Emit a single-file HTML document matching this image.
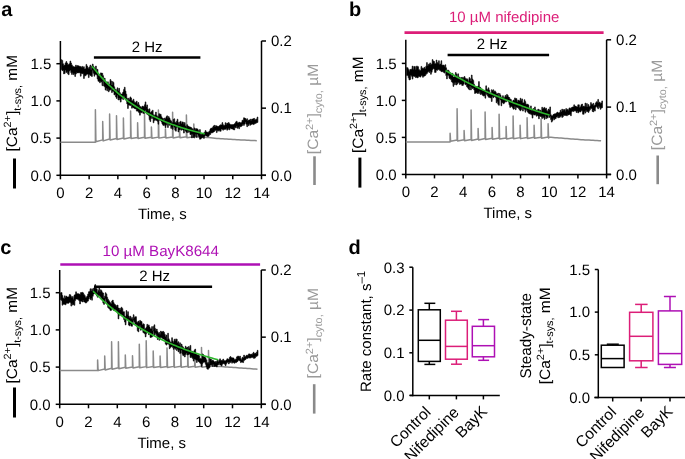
<!DOCTYPE html>
<html><head><meta charset="utf-8"><style>
html,body{margin:0;padding:0;background:#fff;overflow:hidden;}
svg{display:block;filter:blur(0.35px);}
text{font-family:"Liberation Sans", sans-serif;text-rendering:geometricPrecision;}
</style></head><body>
<svg width="685" height="459" viewBox="0 0 685 459">
<rect width="685" height="459" fill="#fff"/>
<line x1="60.4" y1="41" x2="60.4" y2="175.3" stroke="#000" stroke-width="1.5" stroke-linecap="butt"/>
<line x1="59.65" y1="175.3" x2="266" y2="175.3" stroke="#000" stroke-width="1.5" stroke-linecap="butt"/>
<line x1="261.5" y1="41" x2="261.5" y2="175.3" stroke="#000" stroke-width="1.5" stroke-linecap="butt"/>
<line x1="56.4" y1="175.3" x2="60.4" y2="175.3" stroke="#000" stroke-width="1.5" stroke-linecap="butt"/>
<text x="51.3" y="180.6" font-size="15" text-anchor="end" fill="#000" font-weight="normal" >0.0</text>
<line x1="56.4" y1="138.1" x2="60.4" y2="138.1" stroke="#000" stroke-width="1.5" stroke-linecap="butt"/>
<text x="51.3" y="143.4" font-size="15" text-anchor="end" fill="#000" font-weight="normal" >0.5</text>
<line x1="56.4" y1="100.9" x2="60.4" y2="100.9" stroke="#000" stroke-width="1.5" stroke-linecap="butt"/>
<text x="51.3" y="106.2" font-size="15" text-anchor="end" fill="#000" font-weight="normal" >1.0</text>
<line x1="56.4" y1="63.7" x2="60.4" y2="63.7" stroke="#000" stroke-width="1.5" stroke-linecap="butt"/>
<text x="51.3" y="69" font-size="15" text-anchor="end" fill="#000" font-weight="normal" >1.5</text>
<line x1="261.5" y1="175.3" x2="266" y2="175.3" stroke="#000" stroke-width="1.5" stroke-linecap="butt"/>
<text x="271" y="180.6" font-size="15" text-anchor="start" fill="#000" font-weight="normal" >0.0</text>
<line x1="261.5" y1="108.15" x2="266" y2="108.15" stroke="#000" stroke-width="1.5" stroke-linecap="butt"/>
<text x="271" y="113.45" font-size="15" text-anchor="start" fill="#000" font-weight="normal" >0.1</text>
<line x1="261.5" y1="41" x2="266" y2="41" stroke="#000" stroke-width="1.5" stroke-linecap="butt"/>
<text x="271" y="46.3" font-size="15" text-anchor="start" fill="#000" font-weight="normal" >0.2</text>
<line x1="60.4" y1="175.3" x2="60.4" y2="179.3" stroke="#000" stroke-width="1.5" stroke-linecap="butt"/>
<text x="60.4" y="197.8" font-size="15" text-anchor="middle" fill="#000" font-weight="normal" >0</text>
<line x1="89.13" y1="175.3" x2="89.13" y2="179.3" stroke="#000" stroke-width="1.5" stroke-linecap="butt"/>
<text x="89.13" y="197.8" font-size="15" text-anchor="middle" fill="#000" font-weight="normal" >2</text>
<line x1="117.86" y1="175.3" x2="117.86" y2="179.3" stroke="#000" stroke-width="1.5" stroke-linecap="butt"/>
<text x="117.86" y="197.8" font-size="15" text-anchor="middle" fill="#000" font-weight="normal" >4</text>
<line x1="146.59" y1="175.3" x2="146.59" y2="179.3" stroke="#000" stroke-width="1.5" stroke-linecap="butt"/>
<text x="146.59" y="197.8" font-size="15" text-anchor="middle" fill="#000" font-weight="normal" >6</text>
<line x1="175.31" y1="175.3" x2="175.31" y2="179.3" stroke="#000" stroke-width="1.5" stroke-linecap="butt"/>
<text x="175.31" y="197.8" font-size="15" text-anchor="middle" fill="#000" font-weight="normal" >8</text>
<line x1="204.04" y1="175.3" x2="204.04" y2="179.3" stroke="#000" stroke-width="1.5" stroke-linecap="butt"/>
<text x="204.04" y="197.8" font-size="15" text-anchor="middle" fill="#000" font-weight="normal" >10</text>
<line x1="232.77" y1="175.3" x2="232.77" y2="179.3" stroke="#000" stroke-width="1.5" stroke-linecap="butt"/>
<text x="232.77" y="197.8" font-size="15" text-anchor="middle" fill="#000" font-weight="normal" >12</text>
<line x1="261.5" y1="175.3" x2="261.5" y2="179.3" stroke="#000" stroke-width="1.5" stroke-linecap="butt"/>
<text x="261.5" y="197.8" font-size="15" text-anchor="middle" fill="#000" font-weight="normal" >14</text>
<text x="162.4" y="218.5" font-size="15" text-anchor="middle" fill="#000" font-weight="normal" >Time, s</text>
<text transform="translate(17.4,151.5) rotate(-90)" font-size="15" fill="#000" textLength="96.6" lengthAdjust="spacingAndGlyphs">[Ca<tspan font-size="10.5" dy="-6">2+</tspan><tspan dy="6">]</tspan><tspan font-size="10.5" dy="3.5">t-sys,</tspan><tspan dy="-3.5"> mM</tspan></text>
<line x1="14.5" y1="158.5" x2="14.5" y2="188.5" stroke="#000" stroke-width="3" stroke-linecap="butt"/>
<text transform="translate(317.7,154.2) rotate(-90)" font-size="15" fill="#9a9a9a" textLength="90.4" lengthAdjust="spacingAndGlyphs">[Ca<tspan font-size="10.5" dy="-4.5">2+</tspan><tspan dy="4.5">]</tspan><tspan font-size="10.5" dy="4.5">cyto,</tspan><tspan dy="-4.5"> &#181;M</tspan></text>
<line x1="314.5" y1="156.3" x2="314.5" y2="185" stroke="#8a8a8a" stroke-width="2.6" stroke-linecap="butt"/>
<line x1="93.9" y1="57.5" x2="200.4" y2="57.5" stroke="#000" stroke-width="2.6" stroke-linecap="butt"/>
<text x="147.15" y="51.9" font-size="15" text-anchor="middle" fill="#000" font-weight="normal" >2 Hz</text>
<path d="M60.4,142.3 L95.39,142.3 L95.4,109.7 L95.9,141.75 L102.69,139.88 L102.7,121.5 L103.2,140.88 L109.59,139.05 L109.6,114.1 L110.1,140.05 L116.49,138.51 L116.5,115.7 L117,139.51 L123.39,138 L123.4,117.9 L123.9,139 L130.59,137.49 L130.6,111.1 L131.1,138.49 L137.59,137.4 L137.6,122.8 L138.1,138.4 L144.49,137.31 L144.5,113.5 L145,138.31 L151.39,137.21 L151.4,127.1 L151.9,138.21 L158.39,137.12 L158.4,110.1 L158.9,138.12 L165.39,137.03 L165.4,128.9 L165.9,138.03 L172.59,136.93 L172.6,112.3 L173.1,137.93 L179.49,136.84 L179.5,127 L180,137.84 L186.39,136.75 L186.4,114.9 L186.9,137.75 L193.79,136.79 L193.8,124.1 L194.3,137.79 L194.8,136.81 L196.8,136.86 L198.8,136.9 L200.8,136.95 L202.8,137 L204.8,137.18 L206.8,137.38 L208.8,137.58 L210.8,137.78 L212.8,137.98 L214.8,138.18 L216.8,138.38 L218.8,138.58 L220.8,138.75 L222.8,138.87 L224.8,138.99 L226.8,139.11 L228.8,139.23 L230.8,139.35 L232.8,139.47 L234.8,139.59 L236.8,139.71 L238.8,139.83 L240.8,139.94 L242.8,140.02 L244.8,140.11 L246.8,140.2 L248.8,140.29 L250.8,140.38 L252.8,140.47 L254.8,140.56 L256.8,140.65" fill="none" stroke="#8a8a8a" stroke-width="1.5" stroke-linejoin="round" />
<path d="M61.2,59.7 L61.9,59.7 L62.0,60.4 L62.7,60.4 L62.8,63.8 L63.5,63.8 L63.6,65.5 L64.3,65.5 L64.4,65.1 L65.1,65.1 L65.2,63.0 L65.9,63.0 L66.0,61.5 L66.7,61.5 L66.8,63.1 L67.5,63.1 L67.6,64.4 L68.3,64.4 L68.4,64.4 L69.1,64.4 L69.2,63.7 L69.9,63.7 L70.0,61.0 L70.7,61.0 L70.8,63.1 L71.5,63.1 L71.6,64.9 L72.3,64.9 L72.4,66.3 L73.1,66.3 L73.2,66.4 L73.9,66.4 L74.0,66.9 L74.7,66.9 L74.8,66.8 L75.5,66.8 L75.6,65.1 L76.3,65.1 L76.4,66.6 L77.1,66.6 L77.2,65.6 L77.9,65.6 L78.0,65.8 L78.7,65.8 L78.8,66.0 L79.5,66.0 L79.6,66.8 L80.3,66.8 L80.4,66.4 L81.1,66.4 L81.2,67.3 L81.9,67.3 L82.0,66.4 L82.7,66.4 L82.8,67.6 L83.5,67.6 L83.6,66.7 L84.3,66.7 L84.4,68.9 L85.1,68.9 L85.2,68.8 L85.9,68.8 L86.0,64.4 L86.7,64.4 L86.8,66.0 L87.5,66.0 L87.6,67.6 L88.3,67.6 L88.4,68.4 L89.1,68.4 L89.2,66.9 L89.9,66.9 L90.0,65.1 L90.7,65.1 L90.8,69.4 L91.5,69.4 L91.6,66.1 L92.3,66.1 L92.4,64.0 L93.1,64.0 L93.2,66.3 L93.9,66.3 L94.0,67.7 L94.7,67.7 L94.8,69.0 L95.5,69.0 L95.6,66.0 L96.3,66.0 L96.4,70.4 L97.1,70.4 L97.2,69.3 L97.9,69.3 L98.0,75.8 L98.7,75.8 L98.8,74.4 L99.5,74.4 L99.6,75.5 L100.3,75.5 L100.4,72.9 L101.1,72.9 L101.2,73.0 L101.9,73.0 L102.0,73.3 L102.7,73.3 L102.8,75.7 L103.5,75.7 L103.6,79.1 L104.3,79.1 L104.4,78.1 L105.1,78.1 L105.2,82.5 L105.9,82.5 L106.0,82.1 L106.7,82.1 L106.8,82.6 L107.5,82.6 L107.6,81.8 L108.3,81.8 L108.4,85.4 L109.1,85.4 L109.2,84.2 L109.9,84.2 L110.0,79.5 L110.7,79.5 L110.8,80.9 L111.5,80.9 L111.6,84.9 L112.3,84.9 L112.4,81.6 L113.1,81.6 L113.2,82.5 L113.9,82.5 L114.0,86.8 L114.7,86.8 L114.8,89.2 L115.5,89.2 L115.6,89.4 L116.3,89.4 L116.4,91.6 L117.1,91.6 L117.2,87.8 L117.9,87.8 L118.0,91.0 L118.7,91.0 L118.8,88.3 L119.5,88.3 L119.6,92.6 L120.3,92.6 L120.4,94.0 L121.1,94.0 L121.2,94.1 L121.9,94.1 L122.0,93.7 L122.7,93.7 L122.8,92.0 L123.5,92.0 L123.6,89.5 L124.3,89.5 L124.4,87.2 L125.1,87.2 L125.2,91.1 L125.9,91.1 L126.0,94.2 L126.7,94.2 L126.8,98.3 L127.5,98.3 L127.6,100.0 L128.3,100.0 L128.4,98.2 L129.1,98.2 L129.2,99.4 L129.9,99.4 L130.0,96.9 L130.7,96.9 L130.8,98.0 L131.5,98.0 L131.6,100.4 L132.3,100.4 L132.4,101.1 L133.1,101.1 L133.2,99.2 L133.9,99.2 L134.0,101.7 L134.7,101.7 L134.8,103.1 L135.5,103.1 L135.6,102.2 L136.3,102.2 L136.4,101.2 L137.1,101.2 L137.2,104.3 L137.9,104.3 L138.0,102.5 L138.7,102.5 L138.8,104.9 L139.5,104.9 L139.6,106.5 L140.3,106.5 L140.4,106.8 L141.1,106.8 L141.2,107.4 L141.9,107.4 L142.0,106.1 L142.7,106.1 L142.8,106.6 L143.5,106.6 L143.6,106.5 L144.3,106.5 L144.4,104.8 L145.1,104.8 L145.2,101.9 L145.9,101.9 L146.0,107.0 L146.7,107.0 L146.8,104.9 L147.5,104.9 L147.6,109.1 L148.3,109.1 L148.4,110.5 L149.1,110.5 L149.2,108.8 L149.9,108.8 L150.0,112.7 L150.7,112.7 L150.8,112.0 L151.5,112.0 L151.6,111.2 L152.3,111.2 L152.4,110.2 L153.1,110.2 L153.2,114.8 L153.9,114.8 L154.0,115.4 L154.7,115.4 L154.8,114.7 L155.5,114.7 L155.6,112.1 L156.3,112.1 L156.4,115.5 L157.1,115.5 L157.2,116.4 L157.9,116.4 L158.0,116.7 L158.7,116.7 L158.8,113.7 L159.5,113.7 L159.6,114.2 L160.3,114.2 L160.4,114.3 L161.1,114.3 L161.2,116.7 L161.9,116.7 L162.0,118.1 L162.7,118.1 L162.8,118.5 L163.5,118.5 L163.6,120.4 L164.3,120.4 L164.4,118.0 L165.1,118.0 L165.2,118.8 L165.9,118.8 L166.0,116.8 L166.7,116.8 L166.8,115.8 L167.5,115.8 L167.6,118.3 L168.3,118.3 L168.4,116.6 L169.1,116.6 L169.2,118.1 L169.9,118.1 L170.0,119.9 L170.7,119.9 L170.8,120.9 L171.5,120.9 L171.6,122.6 L172.3,122.6 L172.4,122.8 L173.1,122.8 L173.2,119.3 L173.9,119.3 L174.0,118.8 L174.7,118.8 L174.8,122.2 L175.5,122.2 L175.6,122.7 L176.3,122.7 L176.4,121.2 L177.1,121.2 L177.2,119.2 L177.9,119.2 L178.0,122.6 L178.7,122.6 L178.8,124.4 L179.5,124.4 L179.6,121.9 L180.3,121.9 L180.4,121.2 L181.1,121.2 L181.2,123.8 L181.9,123.8 L182.0,121.9 L182.7,121.9 L182.8,122.2 L183.5,122.2 L183.6,124.3 L184.3,124.3 L184.4,122.6 L185.1,122.6 L185.2,126.0 L185.9,126.0 L186.0,127.5 L186.7,127.5 L186.8,124.7 L187.5,124.7 L187.6,126.0 L188.3,126.0 L188.4,126.3 L189.1,126.3 L189.2,127.0 L189.9,127.0 L190.0,127.0 L190.7,127.0 L190.8,127.6 L191.5,127.6 L191.6,128.3 L192.3,128.3 L192.4,129.3 L193.1,129.3 L193.2,130.1 L193.9,130.1 L194.0,127.9 L194.7,127.9 L194.8,129.8 L195.5,129.8 L195.6,128.6 L196.3,128.6 L196.4,128.7 L197.1,128.7 L197.2,128.9 L197.9,128.9 L198.0,130.3 L198.7,130.3 L198.8,132.2 L199.5,132.2 L199.6,129.6 L200.3,129.6 L200.4,134.3 L201.1,134.3 L201.2,134.2 L201.9,134.2 L202.0,134.1 L202.7,134.1 L202.8,133.7 L203.5,133.7 L203.6,132.9 L204.3,132.9 L204.4,132.3 L205.1,132.3 L205.2,130.5 L205.9,130.5 L206.0,132.0 L206.7,132.0 L206.8,132.1 L207.5,132.1 L207.6,132.4 L208.3,132.4 L208.4,131.9 L209.1,131.9 L209.2,131.1 L209.9,131.1 L210.0,129.1 L210.7,129.1 L210.8,128.1 L211.5,128.1 L211.6,128.3 L212.3,128.3 L212.4,127.4 L213.1,127.4 L213.2,126.0 L213.9,126.0 L214.0,125.3 L214.7,125.3 L214.8,126.7 L215.5,126.7 L215.6,125.6 L216.3,125.6 L216.4,126.1 L217.1,126.1 L217.2,126.3 L217.9,126.3 L218.0,126.6 L218.7,126.6 L218.8,126.1 L219.5,126.1 L219.6,125.3 L220.3,125.3 L220.4,124.8 L221.1,124.8 L221.2,125.0 L221.9,125.0 L222.0,122.6 L222.7,122.6 L222.8,124.7 L223.5,124.7 L223.6,125.5 L224.3,125.5 L224.4,125.3 L225.1,125.3 L225.2,122.7 L225.9,122.7 L226.0,124.4 L226.7,124.4 L226.8,123.0 L227.5,123.0 L227.6,123.5 L228.3,123.5 L228.4,122.5 L229.1,122.5 L229.2,123.8 L229.9,123.8 L230.0,124.4 L230.7,124.4 L230.8,124.5 L231.5,124.5 L231.6,124.9 L232.3,124.9 L232.4,124.5 L233.1,124.5 L233.2,124.6 L233.9,124.6 L234.0,124.0 L234.7,124.0 L234.8,123.3 L235.5,123.3 L235.6,121.9 L236.3,121.9 L236.4,121.2 L237.1,121.2 L237.2,122.8 L237.9,122.8 L238.0,123.1 L238.7,123.1 L238.8,122.1 L239.5,122.1 L239.6,122.6 L240.3,122.6 L240.4,122.8 L241.1,122.8 L241.2,122.5 L241.9,122.5 L242.0,120.2 L242.7,120.2 L242.8,120.3 L243.5,120.3 L243.6,117.8 L244.3,117.8 L244.4,118.1 L245.1,118.1 L245.2,118.6 L245.9,118.6 L246.0,119.7 L246.7,119.7 L246.8,118.7 L247.5,118.7 L247.6,120.7 L248.3,120.7 L248.4,120.1 L249.1,120.1 L249.2,120.1 L249.9,120.1 L250.0,119.2 L250.7,119.2 L250.8,120.6 L251.5,120.6 L251.6,119.1 L252.3,119.1 L252.4,119.1 L253.1,119.1 L253.2,118.6 L253.9,118.6 L254.0,118.4 L254.7,118.4 L254.8,119.9 L255.5,119.9 L255.6,119.4 L256.3,119.4 L256.4,118.9 L257.1,118.9 L257.2,117.0 L257.9,117.0 L257.9,122.4 L257.2,122.4 L257.1,122.7 L256.4,122.7 L256.3,123.2 L255.6,123.2 L255.5,123.6 L254.8,123.6 L254.7,124.1 L254.0,124.1 L253.9,124.6 L253.2,124.6 L253.1,124.1 L252.4,124.1 L252.3,124.2 L251.6,124.2 L251.5,124.5 L250.8,124.5 L250.7,125.2 L250.0,125.2 L249.9,123.7 L249.2,123.7 L249.1,125.7 L248.4,125.7 L248.3,124.5 L247.6,124.5 L247.5,126.7 L246.8,126.7 L246.7,124.3 L246.0,124.3 L245.9,122.3 L245.2,122.3 L245.1,124.1 L244.4,124.1 L244.3,125.4 L243.6,125.4 L243.5,124.3 L242.8,124.3 L242.7,125.4 L242.0,125.4 L241.9,126.2 L241.2,126.2 L241.1,126.8 L240.4,126.8 L240.3,126.5 L239.6,126.5 L239.5,128.8 L238.8,128.8 L238.7,127.2 L238.0,127.2 L237.9,128.3 L237.2,128.3 L237.1,126.6 L236.4,126.6 L236.3,127.9 L235.6,127.9 L235.5,127.2 L234.8,127.2 L234.7,129.9 L234.0,129.9 L233.9,129.7 L233.2,129.7 L233.1,129.1 L232.4,129.1 L232.3,128.9 L231.6,128.9 L231.5,128.7 L230.8,128.7 L230.7,128.1 L230.0,128.1 L229.9,129.8 L229.2,129.8 L229.1,128.3 L228.4,128.3 L228.3,129.5 L227.6,129.5 L227.5,130.2 L226.8,130.2 L226.7,128.5 L226.0,128.5 L225.9,129.3 L225.2,129.3 L225.1,129.4 L224.4,129.4 L224.3,129.2 L223.6,129.2 L223.5,130.2 L222.8,130.2 L222.7,129.3 L222.0,129.3 L221.9,129.0 L221.2,129.0 L221.1,131.3 L220.4,131.3 L220.3,131.2 L219.6,131.2 L219.5,130.1 L218.8,130.1 L218.7,131.1 L218.0,131.1 L217.9,130.8 L217.2,130.8 L217.1,132.6 L216.4,132.6 L216.3,129.9 L215.6,129.9 L215.5,130.5 L214.8,130.5 L214.7,131.4 L214.0,131.4 L213.9,132.0 L213.2,132.0 L213.1,132.6 L212.4,132.6 L212.3,133.0 L211.6,133.0 L211.5,132.7 L210.8,132.7 L210.7,134.4 L210.0,134.4 L209.9,134.8 L209.2,134.8 L209.1,136.1 L208.4,136.1 L208.3,136.7 L207.6,136.7 L207.5,136.2 L206.8,136.2 L206.7,136.0 L206.0,136.0 L205.9,135.5 L205.2,135.5 L205.1,136.3 L204.4,136.3 L204.3,138.4 L203.6,138.4 L203.5,137.3 L202.8,137.3 L202.7,137.7 L202.0,137.7 L201.9,138.1 L201.2,138.1 L201.1,139.1 L200.4,139.1 L200.3,139.2 L199.6,139.2 L199.5,137.2 L198.8,137.2 L198.7,135.8 L198.0,135.8 L197.9,134.1 L197.2,134.1 L197.1,137.4 L196.4,137.4 L196.3,134.2 L195.6,134.2 L195.5,136.2 L194.8,136.2 L194.7,137.6 L194.0,137.6 L193.9,137.5 L193.2,137.5 L193.1,134.2 L192.4,134.2 L192.3,138.0 L191.6,138.0 L191.5,134.2 L190.8,134.2 L190.7,134.7 L190.0,134.7 L189.9,131.8 L189.2,131.8 L189.1,132.3 L188.4,132.3 L188.3,130.9 L187.6,130.9 L187.5,132.7 L186.8,132.7 L186.7,132.1 L186.0,132.1 L185.9,131.0 L185.2,131.0 L185.1,129.6 L184.4,129.6 L184.3,133.1 L183.6,133.1 L183.5,129.9 L182.8,129.9 L182.7,129.6 L182.0,129.6 L181.9,130.2 L181.2,130.2 L181.1,128.3 L180.4,128.3 L180.3,129.9 L179.6,129.9 L179.5,129.7 L178.8,129.7 L178.7,132.0 L178.0,132.0 L177.9,127.1 L177.2,127.1 L177.1,127.5 L176.4,127.5 L176.3,131.2 L175.6,131.2 L175.5,130.2 L174.8,130.2 L174.7,127.2 L174.0,127.2 L173.9,125.1 L173.2,125.1 L173.1,129.3 L172.4,129.3 L172.3,127.2 L171.6,127.2 L171.5,128.4 L170.8,128.4 L170.7,124.7 L170.0,124.7 L169.9,125.3 L169.2,125.3 L169.1,124.1 L168.4,124.1 L168.3,127.5 L167.6,127.5 L167.5,122.8 L166.8,122.8 L166.7,125.1 L166.0,125.1 L165.9,127.7 L165.2,127.7 L165.1,124.8 L164.4,124.8 L164.3,125.6 L163.6,125.6 L163.5,125.2 L162.8,125.2 L162.7,124.0 L162.0,124.0 L161.9,121.9 L161.2,121.9 L161.1,120.2 L160.4,120.2 L160.3,120.4 L159.6,120.4 L159.5,119.0 L158.8,119.0 L158.7,124.2 L158.0,124.2 L157.9,121.3 L157.2,121.3 L157.1,120.5 L156.4,120.5 L156.3,120.3 L155.6,120.3 L155.5,119.8 L154.8,119.8 L154.7,120.4 L154.0,120.4 L153.9,122.8 L153.2,122.8 L153.1,118.4 L152.4,118.4 L152.3,116.7 L151.6,116.7 L151.5,118.5 L150.8,118.5 L150.7,121.6 L150.0,121.6 L149.9,119.7 L149.2,119.7 L149.1,115.6 L148.4,115.6 L148.3,114.6 L147.6,114.6 L147.5,114.3 L146.8,114.3 L146.7,112.0 L146.0,112.0 L145.9,110.3 L145.2,110.3 L145.1,111.7 L144.4,111.7 L144.3,113.5 L143.6,113.5 L143.5,113.3 L142.8,113.3 L142.7,111.8 L142.0,111.8 L141.9,112.8 L141.2,112.8 L141.1,112.4 L140.4,112.4 L140.3,115.2 L139.6,115.2 L139.5,112.7 L138.8,112.7 L138.7,111.8 L138.0,111.8 L137.9,110.9 L137.2,110.9 L137.1,111.1 L136.4,111.1 L136.3,108.7 L135.6,108.7 L135.5,108.9 L134.8,108.9 L134.7,108.2 L134.0,108.2 L133.9,107.9 L133.2,107.9 L133.1,106.9 L132.4,106.9 L132.3,108.2 L131.6,108.2 L131.5,104.8 L130.8,104.8 L130.7,105.6 L130.0,105.6 L129.9,105.2 L129.2,105.2 L129.1,104.9 L128.4,104.9 L128.3,108.5 L127.6,108.5 L127.5,103.9 L126.8,103.9 L126.7,100.9 L126.0,100.9 L125.9,98.6 L125.2,98.6 L125.1,98.4 L124.4,98.4 L124.3,95.7 L123.6,95.7 L123.5,99.6 L122.8,99.6 L122.7,98.3 L122.0,98.3 L121.9,98.7 L121.2,98.7 L121.1,102.1 L120.4,102.1 L120.3,99.9 L119.6,99.9 L119.5,97.9 L118.8,97.9 L118.7,100.0 L118.0,100.0 L117.9,95.3 L117.2,95.3 L117.1,98.4 L116.4,98.4 L116.3,96.9 L115.6,96.9 L115.5,94.0 L114.8,94.0 L114.7,95.0 L114.0,95.0 L113.9,91.5 L113.2,91.5 L113.1,90.9 L112.4,90.9 L112.3,92.6 L111.6,92.6 L111.5,89.2 L110.8,89.2 L110.7,90.1 L110.0,90.1 L109.9,90.2 L109.2,90.2 L109.1,91.8 L108.4,91.8 L108.3,88.7 L107.6,88.7 L107.5,90.8 L106.8,90.8 L106.7,88.0 L106.0,88.0 L105.9,90.1 L105.2,90.1 L105.1,86.8 L104.4,86.8 L104.3,86.0 L103.6,86.0 L103.5,80.7 L102.8,80.7 L102.7,85.7 L102.0,85.7 L101.9,82.0 L101.2,82.0 L101.1,81.4 L100.4,81.4 L100.3,82.8 L99.6,82.8 L99.5,81.4 L98.8,81.4 L98.7,81.3 L98.0,81.3 L97.9,78.9 L97.2,78.9 L97.1,75.0 L96.4,75.0 L96.3,74.3 L95.6,74.3 L95.5,74.5 L94.8,74.5 L94.7,76.2 L94.0,76.2 L93.9,73.3 L93.2,73.3 L93.1,70.6 L92.4,70.6 L92.3,76.5 L91.6,76.5 L91.5,75.8 L90.8,75.8 L90.7,75.4 L90.0,75.4 L89.9,74.5 L89.2,74.5 L89.1,77.6 L88.4,77.6 L88.3,74.2 L87.6,74.2 L87.5,74.0 L86.8,74.0 L86.7,74.8 L86.0,74.8 L85.9,75.8 L85.2,75.8 L85.1,75.7 L84.4,75.7 L84.3,78.5 L83.6,78.5 L83.5,73.8 L82.8,73.8 L82.7,73.7 L82.0,73.7 L81.9,73.5 L81.2,73.5 L81.1,76.2 L80.4,76.2 L80.3,73.0 L79.6,73.0 L79.5,72.4 L78.8,72.4 L78.7,72.9 L78.0,72.9 L77.9,72.9 L77.2,72.9 L77.1,72.8 L76.4,72.8 L76.3,74.0 L75.6,74.0 L75.5,76.5 L74.8,76.5 L74.7,73.8 L74.0,73.8 L73.9,74.6 L73.2,74.6 L73.1,72.7 L72.4,72.7 L72.3,74.5 L71.6,74.5 L71.5,72.7 L70.8,72.7 L70.7,70.0 L70.0,70.0 L69.9,71.1 L69.2,71.1 L69.1,74.7 L68.4,74.7 L68.3,73.8 L67.6,73.8 L67.5,71.7 L66.8,71.7 L66.7,72.6 L66.0,72.6 L65.9,70.0 L65.2,70.0 L65.1,73.5 L64.4,73.5 L64.3,73.9 L63.6,73.9 L63.5,70.2 L62.8,70.2 L62.7,70.7 L62.0,70.7 L61.9,69.6 L61.2,69.6Z" fill="#000" stroke="#000" stroke-width="0.6" stroke-linejoin="round"/>
<path d="M92,66.18 L93.91,68.55 L95.82,70.85 L97.73,73.09 L99.64,75.26 L101.55,77.37 L103.46,79.42 L105.37,81.41 L107.28,83.34 L109.19,85.22 L111.1,87.04 L113.01,88.81 L114.92,90.53 L116.83,92.21 L118.74,93.83 L120.65,95.4 L122.56,96.93 L124.47,98.42 L126.38,99.86 L128.29,101.27 L130.2,102.63 L132.11,103.95 L134.02,105.24 L135.93,106.48 L137.84,107.7 L139.75,108.87 L141.66,110.02 L143.57,111.13 L145.48,112.2 L147.39,113.25 L149.31,114.27 L151.22,115.26 L153.13,116.22 L155.04,117.15 L156.95,118.05 L158.86,118.93 L160.77,119.79 L162.68,120.62 L164.59,121.42 L166.5,122.2 L168.41,122.96 L170.32,123.7 L172.23,124.42 L174.14,125.12 L176.05,125.79 L177.96,126.45 L179.87,127.09 L181.78,127.71 L183.69,128.31 L185.6,128.89 L187.51,129.46 L189.42,130.01 L191.33,130.55 L193.24,131.07 L195.15,131.57 L197.06,132.06 L198.97,132.54 L200.88,133 L202.79,133.45 L204.7,133.89" fill="none" stroke="#2cb52c" stroke-width="1.6" stroke-linejoin="round" />
<text x="1.2" y="16.1" font-size="20" text-anchor="start" fill="#000" font-weight="bold" >a</text>
<line x1="405.8" y1="39.8" x2="405.8" y2="174.4" stroke="#000" stroke-width="1.5" stroke-linecap="butt"/>
<line x1="405.05" y1="174.4" x2="611.1" y2="174.4" stroke="#000" stroke-width="1.5" stroke-linecap="butt"/>
<line x1="606.6" y1="39.8" x2="606.6" y2="174.4" stroke="#000" stroke-width="1.5" stroke-linecap="butt"/>
<line x1="401.8" y1="174.4" x2="405.8" y2="174.4" stroke="#000" stroke-width="1.5" stroke-linecap="butt"/>
<text x="396.7" y="179.7" font-size="15" text-anchor="end" fill="#000" font-weight="normal" >0.0</text>
<line x1="401.8" y1="137.4" x2="405.8" y2="137.4" stroke="#000" stroke-width="1.5" stroke-linecap="butt"/>
<text x="396.7" y="142.7" font-size="15" text-anchor="end" fill="#000" font-weight="normal" >0.5</text>
<line x1="401.8" y1="100.4" x2="405.8" y2="100.4" stroke="#000" stroke-width="1.5" stroke-linecap="butt"/>
<text x="396.7" y="105.7" font-size="15" text-anchor="end" fill="#000" font-weight="normal" >1.0</text>
<line x1="401.8" y1="63.4" x2="405.8" y2="63.4" stroke="#000" stroke-width="1.5" stroke-linecap="butt"/>
<text x="396.7" y="68.7" font-size="15" text-anchor="end" fill="#000" font-weight="normal" >1.5</text>
<line x1="606.6" y1="174.4" x2="611.1" y2="174.4" stroke="#000" stroke-width="1.5" stroke-linecap="butt"/>
<text x="616.1" y="179.7" font-size="15" text-anchor="start" fill="#000" font-weight="normal" >0.0</text>
<line x1="606.6" y1="107.1" x2="611.1" y2="107.1" stroke="#000" stroke-width="1.5" stroke-linecap="butt"/>
<text x="616.1" y="112.4" font-size="15" text-anchor="start" fill="#000" font-weight="normal" >0.1</text>
<line x1="606.6" y1="39.8" x2="611.1" y2="39.8" stroke="#000" stroke-width="1.5" stroke-linecap="butt"/>
<text x="616.1" y="45.1" font-size="15" text-anchor="start" fill="#000" font-weight="normal" >0.2</text>
<line x1="405.8" y1="174.4" x2="405.8" y2="178.4" stroke="#000" stroke-width="1.5" stroke-linecap="butt"/>
<text x="405.8" y="196.9" font-size="15" text-anchor="middle" fill="#000" font-weight="normal" >0</text>
<line x1="434.49" y1="174.4" x2="434.49" y2="178.4" stroke="#000" stroke-width="1.5" stroke-linecap="butt"/>
<text x="434.49" y="196.9" font-size="15" text-anchor="middle" fill="#000" font-weight="normal" >2</text>
<line x1="463.17" y1="174.4" x2="463.17" y2="178.4" stroke="#000" stroke-width="1.5" stroke-linecap="butt"/>
<text x="463.17" y="196.9" font-size="15" text-anchor="middle" fill="#000" font-weight="normal" >4</text>
<line x1="491.86" y1="174.4" x2="491.86" y2="178.4" stroke="#000" stroke-width="1.5" stroke-linecap="butt"/>
<text x="491.86" y="196.9" font-size="15" text-anchor="middle" fill="#000" font-weight="normal" >6</text>
<line x1="520.54" y1="174.4" x2="520.54" y2="178.4" stroke="#000" stroke-width="1.5" stroke-linecap="butt"/>
<text x="520.54" y="196.9" font-size="15" text-anchor="middle" fill="#000" font-weight="normal" >8</text>
<line x1="549.23" y1="174.4" x2="549.23" y2="178.4" stroke="#000" stroke-width="1.5" stroke-linecap="butt"/>
<text x="549.23" y="196.9" font-size="15" text-anchor="middle" fill="#000" font-weight="normal" >10</text>
<line x1="577.91" y1="174.4" x2="577.91" y2="178.4" stroke="#000" stroke-width="1.5" stroke-linecap="butt"/>
<text x="577.91" y="196.9" font-size="15" text-anchor="middle" fill="#000" font-weight="normal" >12</text>
<line x1="606.6" y1="174.4" x2="606.6" y2="178.4" stroke="#000" stroke-width="1.5" stroke-linecap="butt"/>
<text x="606.6" y="196.9" font-size="15" text-anchor="middle" fill="#000" font-weight="normal" >14</text>
<text x="507.8" y="217.6" font-size="15" text-anchor="middle" fill="#000" font-weight="normal" >Time, s</text>
<text transform="translate(362.8,153) rotate(-90)" font-size="15" fill="#000" textLength="96.6" lengthAdjust="spacingAndGlyphs">[Ca<tspan font-size="10.5" dy="-6">2+</tspan><tspan dy="6">]</tspan><tspan font-size="10.5" dy="3.5">t-sys,</tspan><tspan dy="-3.5"> mM</tspan></text>
<line x1="359.9" y1="157.6" x2="359.9" y2="187.6" stroke="#000" stroke-width="3" stroke-linecap="butt"/>
<text transform="translate(661.7,150.2) rotate(-90)" font-size="15" fill="#9a9a9a" textLength="90.4" lengthAdjust="spacingAndGlyphs">[Ca<tspan font-size="10.5" dy="-4.5">2+</tspan><tspan dy="4.5">]</tspan><tspan font-size="10.5" dy="4.5">cyto,</tspan><tspan dy="-4.5"> &#181;M</tspan></text>
<line x1="657.7" y1="155.5" x2="657.7" y2="184.2" stroke="#8a8a8a" stroke-width="2.6" stroke-linecap="butt"/>
<line x1="447.6" y1="55" x2="549.1" y2="55" stroke="#000" stroke-width="2.6" stroke-linecap="butt"/>
<text x="492.15" y="49.4" font-size="15" text-anchor="middle" fill="#000" font-weight="normal" >2 Hz</text>
<line x1="404.5" y1="32.6" x2="603.6" y2="32.6" stroke="#dc1e78" stroke-width="2.6" stroke-linecap="butt"/>
<text x="449" y="22" font-size="15" text-anchor="start" fill="#dc1e78" font-weight="normal" >10 &#181;M nifedipine</text>
<path d="M405.8,142 L450.09,142 L450.1,133.3 L450.6,141.3 L457.09,140.02 L457.1,108.8 L457.6,141.02 L464.09,139.74 L464.1,130.6 L464.6,140.74 L471.09,139.43 L471.1,109.9 L471.6,140.43 L478.09,138.97 L478.1,128.5 L478.6,139.97 L485.09,138.52 L485.1,111.9 L485.6,139.52 L492.09,138.16 L492.1,127.5 L492.6,139.16 L499.09,138.03 L499.1,114.2 L499.6,139.03 L506.09,137.89 L506.1,126.4 L506.6,138.89 L513.09,137.76 L513.1,115.9 L513.6,138.76 L520.09,137.63 L520.1,125.2 L520.6,138.63 L527.09,137.5 L527.1,117.7 L527.6,138.5 L534.09,137.36 L534.1,125.2 L534.6,138.36 L541.09,137.23 L541.1,118.9 L541.6,138.23 L548.09,137.11 L548.1,123.8 L548.6,138.11 L549.1,137.18 L551.1,137.33 L553.1,137.48 L555.1,137.63 L557.1,137.78 L559.1,137.93 L561.1,138.09 L563.1,138.25 L565.1,138.41 L567.1,138.57 L569.1,138.73 L571.1,138.89 L573.1,139.05 L575.1,139.21 L577.1,139.37 L579.1,139.53 L581.1,139.66 L583.1,139.78 L585.1,139.89 L587.1,140 L589.1,140.11 L591.1,140.23 L593.1,140.34 L595.1,140.45 L597.1,140.57 L599.1,140.68 L601.1,140.79" fill="none" stroke="#8a8a8a" stroke-width="1.5" stroke-linejoin="round" />
<path d="M406.6,67.6 L407.3,67.6 L407.4,67.8 L408.1,67.8 L408.2,69.6 L408.9,69.6 L409.0,71.2 L409.7,71.2 L409.8,69.5 L410.5,69.5 L410.6,69.3 L411.3,69.3 L411.4,69.2 L412.1,69.2 L412.2,66.1 L412.9,66.1 L413.0,69.6 L413.7,69.6 L413.8,66.4 L414.5,66.4 L414.6,66.6 L415.3,66.6 L415.4,69.4 L416.1,69.4 L416.2,66.2 L416.9,66.2 L417.0,66.2 L417.7,66.2 L417.8,66.7 L418.5,66.7 L418.6,69.4 L419.3,69.4 L419.4,70.3 L420.1,70.3 L420.2,70.5 L420.9,70.5 L421.0,66.4 L421.7,66.4 L421.8,68.5 L422.5,68.5 L422.6,67.9 L423.3,67.9 L423.4,68.8 L424.1,68.8 L424.2,67.3 L424.9,67.3 L425.0,69.0 L425.7,69.0 L425.8,66.2 L426.5,66.2 L426.6,62.6 L427.3,62.6 L427.4,66.0 L428.1,66.0 L428.2,64.2 L428.9,64.2 L429.0,64.3 L429.7,64.3 L429.8,62.9 L430.5,62.9 L430.6,64.8 L431.3,64.8 L431.4,63.9 L432.1,63.9 L432.2,59.6 L432.9,59.6 L433.0,61.0 L433.7,61.0 L433.8,61.5 L434.5,61.5 L434.6,63.4 L435.3,63.4 L435.4,63.7 L436.1,63.7 L436.2,60.0 L436.9,60.0 L437.0,62.6 L437.7,62.6 L437.8,63.2 L438.5,63.2 L438.6,60.7 L439.3,60.7 L439.4,64.6 L440.1,64.6 L440.2,64.0 L440.9,64.0 L441.0,60.7 L441.7,60.7 L441.8,65.1 L442.5,65.1 L442.6,65.2 L443.3,65.2 L443.4,65.0 L444.1,65.0 L444.2,66.2 L444.9,66.2 L445.0,64.7 L445.7,64.7 L445.8,67.8 L446.5,67.8 L446.6,69.9 L447.3,69.9 L447.4,70.7 L448.1,70.7 L448.2,70.2 L448.9,70.2 L449.0,71.8 L449.7,71.8 L449.8,72.8 L450.5,72.8 L450.6,73.2 L451.3,73.2 L451.4,75.5 L452.1,75.5 L452.2,73.3 L452.9,73.3 L453.0,77.1 L453.7,77.1 L453.8,77.0 L454.5,77.0 L454.6,76.4 L455.3,76.4 L455.4,72.5 L456.1,72.5 L456.2,73.9 L456.9,73.9 L457.0,77.4 L457.7,77.4 L457.8,73.8 L458.5,73.8 L458.6,76.9 L459.3,76.9 L459.4,77.3 L460.1,77.3 L460.2,78.1 L460.9,78.1 L461.0,77.6 L461.7,77.6 L461.8,77.3 L462.5,77.3 L462.6,78.5 L463.3,78.5 L463.4,77.4 L464.1,77.4 L464.2,76.5 L464.9,76.5 L465.0,78.2 L465.7,78.2 L465.8,79.2 L466.5,79.2 L466.6,78.7 L467.3,78.7 L467.4,79.6 L468.1,79.6 L468.2,81.8 L468.9,81.8 L469.0,77.6 L469.7,77.6 L469.8,78.7 L470.5,78.7 L470.6,80.9 L471.3,80.9 L471.4,75.0 L472.1,75.0 L472.2,79.0 L472.9,79.0 L473.0,80.5 L473.7,80.5 L473.8,84.3 L474.5,84.3 L474.6,86.4 L475.3,86.4 L475.4,87.5 L476.1,87.5 L476.2,86.7 L476.9,86.7 L477.0,86.9 L477.7,86.9 L477.8,86.0 L478.5,86.0 L478.6,81.6 L479.3,81.6 L479.4,86.9 L480.1,86.9 L480.2,87.6 L480.9,87.6 L481.0,89.0 L481.7,89.0 L481.8,89.1 L482.5,89.1 L482.6,90.5 L483.3,90.5 L483.4,90.8 L484.1,90.8 L484.2,90.4 L484.9,90.4 L485.0,90.7 L485.7,90.7 L485.8,85.8 L486.5,85.8 L486.6,89.0 L487.3,89.0 L487.4,90.3 L488.1,90.3 L488.2,87.8 L488.9,87.8 L489.0,90.2 L489.7,90.2 L489.8,93.2 L490.5,93.2 L490.6,92.9 L491.3,92.9 L491.4,89.7 L492.1,89.7 L492.2,90.5 L492.9,90.5 L493.0,89.8 L493.7,89.8 L493.8,92.0 L494.5,92.0 L494.6,90.9 L495.3,90.9 L495.4,91.9 L496.1,91.9 L496.2,93.8 L496.9,93.8 L497.0,94.1 L497.7,94.1 L497.8,93.1 L498.5,93.1 L498.6,96.4 L499.3,96.4 L499.4,93.5 L500.1,93.5 L500.2,95.1 L500.9,95.1 L501.0,97.1 L501.7,97.1 L501.8,97.5 L502.5,97.5 L502.6,95.7 L503.3,95.7 L503.4,97.7 L504.1,97.7 L504.2,97.4 L504.9,97.4 L505.0,95.4 L505.7,95.4 L505.8,96.8 L506.5,96.8 L506.6,94.4 L507.3,94.4 L507.4,95.2 L508.1,95.2 L508.2,97.0 L508.9,97.0 L509.0,97.6 L509.7,97.6 L509.8,99.0 L510.5,99.0 L510.6,99.5 L511.3,99.5 L511.4,101.3 L512.1,101.3 L512.2,102.2 L512.9,102.2 L513.0,100.0 L513.7,100.0 L513.8,100.6 L514.5,100.6 L514.6,97.9 L515.3,97.9 L515.4,98.8 L516.1,98.8 L516.2,98.6 L516.9,98.6 L517.0,101.9 L517.7,101.9 L517.8,100.1 L518.5,100.1 L518.6,100.4 L519.3,100.4 L519.4,100.9 L520.1,100.9 L520.2,98.2 L520.9,98.2 L521.0,100.5 L521.7,100.5 L521.8,98.9 L522.5,98.9 L522.6,102.7 L523.3,102.7 L523.4,102.9 L524.1,102.9 L524.2,99.7 L524.9,99.7 L525.0,101.6 L525.7,101.6 L525.8,104.0 L526.5,104.0 L526.6,105.1 L527.3,105.1 L527.4,104.1 L528.1,104.1 L528.2,105.1 L528.9,105.1 L529.0,108.0 L529.7,108.0 L529.8,108.9 L530.5,108.9 L530.6,105.9 L531.3,105.9 L531.4,110.2 L532.1,110.2 L532.2,109.6 L532.9,109.6 L533.0,108.5 L533.7,108.5 L533.8,109.4 L534.5,109.4 L534.6,106.9 L535.3,106.9 L535.4,109.8 L536.1,109.8 L536.2,110.2 L536.9,110.2 L537.0,110.8 L537.7,110.8 L537.8,109.1 L538.5,109.1 L538.6,109.6 L539.3,109.6 L539.4,110.7 L540.1,110.7 L540.2,110.2 L540.9,110.2 L541.0,111.8 L541.7,111.8 L541.8,107.2 L542.5,107.2 L542.6,109.0 L543.3,109.0 L543.4,107.9 L544.1,107.9 L544.2,107.4 L544.9,107.4 L545.0,109.0 L545.7,109.0 L545.8,108.2 L546.5,108.2 L546.6,110.5 L547.3,110.5 L547.4,111.5 L548.1,111.5 L548.2,109.1 L548.9,109.1 L549.0,110.0 L549.7,110.0 L549.8,106.9 L550.5,106.9 L550.6,114.8 L551.3,114.8 L551.4,116.1 L552.1,116.1 L552.2,115.7 L552.9,115.7 L553.0,114.6 L553.7,114.6 L553.8,114.1 L554.5,114.1 L554.6,113.8 L555.3,113.8 L555.4,113.8 L556.1,113.8 L556.2,113.0 L556.9,113.0 L557.0,112.1 L557.7,112.1 L557.8,113.0 L558.5,113.0 L558.6,112.8 L559.3,112.8 L559.4,112.5 L560.1,112.5 L560.2,110.2 L560.9,110.2 L561.0,112.0 L561.7,112.0 L561.8,109.1 L562.5,109.1 L562.6,110.5 L563.3,110.5 L563.4,109.6 L564.1,109.6 L564.2,109.6 L564.9,109.6 L565.0,111.2 L565.7,111.2 L565.8,108.6 L566.5,108.6 L566.6,109.9 L567.3,109.9 L567.4,109.2 L568.1,109.2 L568.2,110.2 L568.9,110.2 L569.0,107.9 L569.7,107.9 L569.8,108.2 L570.5,108.2 L570.6,108.2 L571.3,108.2 L571.4,107.6 L572.1,107.6 L572.2,107.0 L572.9,107.0 L573.0,107.1 L573.7,107.1 L573.8,104.8 L574.5,104.8 L574.6,106.2 L575.3,106.2 L575.4,106.1 L576.1,106.1 L576.2,106.8 L576.9,106.8 L577.0,107.1 L577.7,107.1 L577.8,104.8 L578.5,104.8 L578.6,104.8 L579.3,104.8 L579.4,107.5 L580.1,107.5 L580.2,106.8 L580.9,106.8 L581.0,104.7 L581.7,104.7 L581.8,104.0 L582.5,104.0 L582.6,106.6 L583.3,106.6 L583.4,106.1 L584.1,106.1 L584.2,106.5 L584.9,106.5 L585.0,103.0 L585.7,103.0 L585.8,106.4 L586.5,106.4 L586.6,103.6 L587.3,103.6 L587.4,107.1 L588.1,107.1 L588.2,104.6 L588.9,104.6 L589.0,106.9 L589.7,106.9 L589.8,106.0 L590.5,106.0 L590.6,102.6 L591.3,102.6 L591.4,104.3 L592.1,104.3 L592.2,104.2 L592.9,104.2 L593.0,103.3 L593.7,103.3 L593.8,106.1 L594.5,106.1 L594.6,104.9 L595.3,104.9 L595.4,102.9 L596.1,102.9 L596.2,101.8 L596.9,101.8 L597.0,102.2 L597.7,102.2 L597.8,99.4 L598.5,99.4 L598.6,102.9 L599.3,102.9 L599.4,102.1 L600.1,102.1 L600.2,103.6 L600.9,103.6 L601.0,102.9 L601.7,102.9 L601.8,100.9 L602.5,100.9 L602.5,107.7 L601.8,107.7 L601.7,108.1 L601.0,108.1 L600.9,109.3 L600.2,109.3 L600.1,107.4 L599.4,107.4 L599.3,106.6 L598.6,106.6 L598.5,108.8 L597.8,108.8 L597.7,107.4 L597.0,107.4 L596.9,106.6 L596.2,106.6 L596.1,107.2 L595.4,107.2 L595.3,111.1 L594.6,111.1 L594.5,110.1 L593.8,110.1 L593.7,111.9 L593.0,111.9 L592.9,111.4 L592.2,111.4 L592.1,108.4 L591.4,108.4 L591.3,108.5 L590.6,108.5 L590.5,109.6 L589.8,109.6 L589.7,110.8 L589.0,110.8 L588.9,112.4 L588.2,112.4 L588.1,111.5 L587.4,111.5 L587.3,111.7 L586.6,111.7 L586.5,110.5 L585.8,110.5 L585.7,113.1 L585.0,113.1 L584.9,111.5 L584.2,111.5 L584.1,114.3 L583.4,114.3 L583.3,114.2 L582.6,114.2 L582.5,110.7 L581.8,110.7 L581.7,110.8 L581.0,110.8 L580.9,112.0 L580.2,112.0 L580.1,111.6 L579.4,111.6 L579.3,112.1 L578.6,112.1 L578.5,113.0 L577.8,113.0 L577.7,111.0 L577.0,111.0 L576.9,112.5 L576.2,112.5 L576.1,110.7 L575.4,110.7 L575.3,111.1 L574.6,111.1 L574.5,110.8 L573.8,110.8 L573.7,111.5 L573.0,111.5 L572.9,111.1 L572.2,111.1 L572.1,111.8 L571.4,111.8 L571.3,115.8 L570.6,115.8 L570.5,114.4 L569.8,114.4 L569.7,114.5 L569.0,114.5 L568.9,115.0 L568.2,115.0 L568.1,114.7 L567.4,114.7 L567.3,115.9 L566.6,115.9 L566.5,115.1 L565.8,115.1 L565.7,115.5 L565.0,115.5 L564.9,115.4 L564.2,115.4 L564.1,115.3 L563.4,115.3 L563.3,116.8 L562.6,116.8 L562.5,117.4 L561.8,117.4 L561.7,115.7 L561.0,115.7 L560.9,116.4 L560.2,116.4 L560.1,117.5 L559.4,117.5 L559.3,116.8 L558.6,116.8 L558.5,117.9 L557.8,117.9 L557.7,116.5 L557.0,116.5 L556.9,117.1 L556.2,117.1 L556.1,118.7 L555.4,118.7 L555.3,118.7 L554.6,118.7 L554.5,119.8 L553.8,119.8 L553.7,118.6 L553.0,118.6 L552.9,120.7 L552.2,120.7 L552.1,122.1 L551.4,122.1 L551.3,119.6 L550.6,119.6 L550.5,116.6 L549.8,116.6 L549.7,117.4 L549.0,117.4 L548.9,115.2 L548.2,115.2 L548.1,118.1 L547.4,118.1 L547.3,117.3 L546.6,117.3 L546.5,118.7 L545.8,118.7 L545.7,115.7 L545.0,115.7 L544.9,119.4 L544.2,119.4 L544.1,117.7 L543.4,117.7 L543.3,116.8 L542.6,116.8 L542.5,118.4 L541.8,118.4 L541.7,116.8 L541.0,116.8 L540.9,116.4 L540.2,116.4 L540.1,115.9 L539.4,115.9 L539.3,118.8 L538.6,118.8 L538.5,115.9 L537.8,115.9 L537.7,115.6 L537.0,115.6 L536.9,116.2 L536.2,116.2 L536.1,114.5 L535.4,114.5 L535.3,115.1 L534.6,115.1 L534.5,114.9 L533.8,114.9 L533.7,114.6 L533.0,114.6 L532.9,118.1 L532.2,118.1 L532.1,114.8 L531.4,114.8 L531.3,114.3 L530.6,114.3 L530.5,113.7 L529.8,113.7 L529.7,113.8 L529.0,113.8 L528.9,113.1 L528.2,113.1 L528.1,112.0 L527.4,112.0 L527.3,110.6 L526.6,110.6 L526.5,109.6 L525.8,109.6 L525.7,112.2 L525.0,112.2 L524.9,109.3 L524.2,109.3 L524.1,108.4 L523.4,108.4 L523.3,111.1 L522.6,111.1 L522.5,107.6 L521.8,107.6 L521.7,109.5 L521.0,109.5 L520.9,110.8 L520.2,110.8 L520.1,110.0 L519.4,110.0 L519.3,108.7 L518.6,108.7 L518.5,107.7 L517.8,107.7 L517.7,107.5 L517.0,107.5 L516.9,107.3 L516.2,107.3 L516.1,109.7 L515.4,109.7 L515.3,106.4 L514.6,106.4 L514.5,108.9 L513.8,108.9 L513.7,109.2 L513.0,109.2 L512.9,107.5 L512.2,107.5 L512.1,106.4 L511.4,106.4 L511.3,106.4 L510.6,106.4 L510.5,107.4 L509.8,107.4 L509.7,104.8 L509.0,104.8 L508.9,102.0 L508.2,102.0 L508.1,99.9 L507.4,99.9 L507.3,99.6 L506.6,99.6 L506.5,102.0 L505.8,102.0 L505.7,101.6 L505.0,101.6 L504.9,102.7 L504.2,102.7 L504.1,103.8 L503.4,103.8 L503.3,102.9 L502.6,102.9 L502.5,102.6 L501.8,102.6 L501.7,105.8 L501.0,105.8 L500.9,99.9 L500.2,99.9 L500.1,98.3 L499.4,98.3 L499.3,105.3 L498.6,105.3 L498.5,104.2 L497.8,104.2 L497.7,101.5 L497.0,101.5 L496.9,102.8 L496.2,102.8 L496.1,97.6 L495.4,97.6 L495.3,96.5 L494.6,96.5 L494.5,96.7 L493.8,96.7 L493.7,97.7 L493.0,97.7 L492.9,96.5 L492.2,96.5 L492.1,101.5 L491.4,101.5 L491.3,97.8 L490.6,97.8 L490.5,97.9 L489.8,97.9 L489.7,97.3 L489.0,97.3 L488.9,97.2 L488.2,97.2 L488.1,95.7 L487.4,95.7 L487.3,94.6 L486.6,94.6 L486.5,93.5 L485.8,93.5 L485.7,98.2 L485.0,98.2 L484.9,95.7 L484.2,95.7 L484.1,96.1 L483.4,96.1 L483.3,95.4 L482.6,95.4 L482.5,94.7 L481.8,94.7 L481.7,93.7 L481.0,93.7 L480.9,94.4 L480.2,94.4 L480.1,91.6 L479.4,91.6 L479.3,93.5 L478.6,93.5 L478.5,92.4 L477.8,92.4 L477.7,93.4 L477.0,93.4 L476.9,92.7 L476.2,92.7 L476.1,93.1 L475.4,93.1 L475.3,93.5 L474.6,93.5 L474.5,90.0 L473.8,90.0 L473.7,88.0 L473.0,88.0 L472.9,88.6 L472.2,88.6 L472.1,87.6 L471.4,87.6 L471.3,90.0 L470.6,90.0 L470.5,86.0 L469.8,86.0 L469.7,89.8 L469.0,89.8 L468.9,88.9 L468.2,88.9 L468.1,87.5 L467.4,87.5 L467.3,86.7 L466.6,86.7 L466.5,84.6 L465.8,84.6 L465.7,84.7 L465.0,84.7 L464.9,81.2 L464.2,81.2 L464.1,84.1 L463.4,84.1 L463.3,85.4 L462.6,85.4 L462.5,85.5 L461.8,85.5 L461.7,83.9 L461.0,83.9 L460.9,84.1 L460.2,84.1 L460.1,84.4 L459.4,84.4 L459.3,82.8 L458.6,82.8 L458.5,82.6 L457.8,82.6 L457.7,83.9 L457.0,83.9 L456.9,85.0 L456.2,85.0 L456.1,82.4 L455.4,82.4 L455.3,84.8 L454.6,84.8 L454.5,82.7 L453.8,82.7 L453.7,86.4 L453.0,86.4 L452.9,82.4 L452.2,82.4 L452.1,81.7 L451.4,81.7 L451.3,79.6 L450.6,79.6 L450.5,78.8 L449.8,78.8 L449.7,78.4 L449.0,78.4 L448.9,75.6 L448.2,75.6 L448.1,75.6 L447.4,75.6 L447.3,78.9 L446.6,78.9 L446.5,75.6 L445.8,75.6 L445.7,71.6 L445.0,71.6 L444.9,73.1 L444.2,73.1 L444.1,72.3 L443.4,72.3 L443.3,71.8 L442.6,71.8 L442.5,71.4 L441.8,71.4 L441.7,71.7 L441.0,71.7 L440.9,70.7 L440.2,70.7 L440.1,70.3 L439.4,70.3 L439.3,69.6 L438.6,69.6 L438.5,69.4 L437.8,69.4 L437.7,70.3 L437.0,70.3 L436.9,69.9 L436.2,69.9 L436.1,72.4 L435.4,72.4 L435.3,72.4 L434.6,72.4 L434.5,69.0 L433.8,69.0 L433.7,68.4 L433.0,68.4 L432.9,69.7 L432.2,69.7 L432.1,72.3 L431.4,72.3 L431.3,74.3 L430.6,74.3 L430.5,71.2 L429.8,71.2 L429.7,72.5 L429.0,72.5 L428.9,71.5 L428.2,71.5 L428.1,72.3 L427.4,72.3 L427.3,73.6 L426.6,73.6 L426.5,74.2 L425.8,74.2 L425.7,75.4 L425.0,75.4 L424.9,76.1 L424.2,76.1 L424.1,76.3 L423.4,76.3 L423.3,77.3 L422.6,77.3 L422.5,75.7 L421.8,75.7 L421.7,75.5 L421.0,75.5 L420.9,77.1 L420.2,77.1 L420.1,76.7 L419.4,76.7 L419.3,76.0 L418.6,76.0 L418.5,77.3 L417.8,77.3 L417.7,77.9 L417.0,77.9 L416.9,77.3 L416.2,77.3 L416.1,77.6 L415.4,77.6 L415.3,76.6 L414.6,76.6 L414.5,76.4 L413.8,76.4 L413.7,76.1 L413.0,76.1 L412.9,79.1 L412.2,79.1 L412.1,76.2 L411.4,76.2 L411.3,75.2 L410.6,75.2 L410.5,79.5 L409.8,79.5 L409.7,80.0 L409.0,80.0 L408.9,77.8 L408.2,77.8 L408.1,75.4 L407.4,75.4 L407.3,75.4 L406.6,75.4Z" fill="#000" stroke="#000" stroke-width="0.6" stroke-linejoin="round"/>
<path d="M445.5,70.5 L447.26,71.53 L449.03,72.54 L450.79,73.54 L452.56,74.54 L454.32,75.52 L456.09,76.49 L457.85,77.45 L459.62,78.4 L461.38,79.33 L463.14,80.26 L464.91,81.18 L466.67,82.09 L468.44,82.99 L470.2,83.87 L471.97,84.75 L473.73,85.62 L475.49,86.48 L477.26,87.33 L479.02,88.17 L480.79,89 L482.55,89.82 L484.32,90.63 L486.08,91.44 L487.85,92.23 L489.61,93.02 L491.37,93.79 L493.14,94.56 L494.9,95.32 L496.67,96.07 L498.43,96.82 L500.2,97.55 L501.96,98.28 L503.73,99 L505.49,99.71 L507.25,100.41 L509.02,101.1 L510.78,101.79 L512.55,102.47 L514.31,103.14 L516.08,103.81 L517.84,104.47 L519.61,105.12 L521.37,105.76 L523.13,106.4 L524.9,107.03 L526.66,107.65 L528.43,108.26 L530.19,108.87 L531.96,109.47 L533.72,110.07 L535.48,110.66 L537.25,111.24 L539.01,111.81 L540.78,112.38 L542.54,112.95 L544.31,113.5 L546.07,114.05 L547.84,114.6 L549.6,115.14" fill="none" stroke="#2cb52c" stroke-width="1.6" stroke-linejoin="round" />
<text x="348.9" y="15.7" font-size="20" text-anchor="start" fill="#000" font-weight="bold" >b</text>
<line x1="59.7" y1="270" x2="59.7" y2="404.3" stroke="#000" stroke-width="1.5" stroke-linecap="butt"/>
<line x1="58.95" y1="404.3" x2="265.8" y2="404.3" stroke="#000" stroke-width="1.5" stroke-linecap="butt"/>
<line x1="261.3" y1="270" x2="261.3" y2="404.3" stroke="#000" stroke-width="1.5" stroke-linecap="butt"/>
<line x1="55.7" y1="404.3" x2="59.7" y2="404.3" stroke="#000" stroke-width="1.5" stroke-linecap="butt"/>
<text x="50.6" y="409.6" font-size="15" text-anchor="end" fill="#000" font-weight="normal" >0.0</text>
<line x1="55.7" y1="367.1" x2="59.7" y2="367.1" stroke="#000" stroke-width="1.5" stroke-linecap="butt"/>
<text x="50.6" y="372.4" font-size="15" text-anchor="end" fill="#000" font-weight="normal" >0.5</text>
<line x1="55.7" y1="329.9" x2="59.7" y2="329.9" stroke="#000" stroke-width="1.5" stroke-linecap="butt"/>
<text x="50.6" y="335.2" font-size="15" text-anchor="end" fill="#000" font-weight="normal" >1.0</text>
<line x1="55.7" y1="292.7" x2="59.7" y2="292.7" stroke="#000" stroke-width="1.5" stroke-linecap="butt"/>
<text x="50.6" y="298" font-size="15" text-anchor="end" fill="#000" font-weight="normal" >1.5</text>
<line x1="261.3" y1="404.3" x2="265.8" y2="404.3" stroke="#000" stroke-width="1.5" stroke-linecap="butt"/>
<text x="270.8" y="409.6" font-size="15" text-anchor="start" fill="#000" font-weight="normal" >0.0</text>
<line x1="261.3" y1="337.15" x2="265.8" y2="337.15" stroke="#000" stroke-width="1.5" stroke-linecap="butt"/>
<text x="270.8" y="342.45" font-size="15" text-anchor="start" fill="#000" font-weight="normal" >0.1</text>
<line x1="261.3" y1="270" x2="265.8" y2="270" stroke="#000" stroke-width="1.5" stroke-linecap="butt"/>
<text x="270.8" y="275.3" font-size="15" text-anchor="start" fill="#000" font-weight="normal" >0.2</text>
<line x1="59.7" y1="404.3" x2="59.7" y2="408.3" stroke="#000" stroke-width="1.5" stroke-linecap="butt"/>
<text x="59.7" y="426.8" font-size="15" text-anchor="middle" fill="#000" font-weight="normal" >0</text>
<line x1="88.5" y1="404.3" x2="88.5" y2="408.3" stroke="#000" stroke-width="1.5" stroke-linecap="butt"/>
<text x="88.5" y="426.8" font-size="15" text-anchor="middle" fill="#000" font-weight="normal" >2</text>
<line x1="117.3" y1="404.3" x2="117.3" y2="408.3" stroke="#000" stroke-width="1.5" stroke-linecap="butt"/>
<text x="117.3" y="426.8" font-size="15" text-anchor="middle" fill="#000" font-weight="normal" >4</text>
<line x1="146.1" y1="404.3" x2="146.1" y2="408.3" stroke="#000" stroke-width="1.5" stroke-linecap="butt"/>
<text x="146.1" y="426.8" font-size="15" text-anchor="middle" fill="#000" font-weight="normal" >6</text>
<line x1="174.9" y1="404.3" x2="174.9" y2="408.3" stroke="#000" stroke-width="1.5" stroke-linecap="butt"/>
<text x="174.9" y="426.8" font-size="15" text-anchor="middle" fill="#000" font-weight="normal" >8</text>
<line x1="203.7" y1="404.3" x2="203.7" y2="408.3" stroke="#000" stroke-width="1.5" stroke-linecap="butt"/>
<text x="203.7" y="426.8" font-size="15" text-anchor="middle" fill="#000" font-weight="normal" >10</text>
<line x1="232.5" y1="404.3" x2="232.5" y2="408.3" stroke="#000" stroke-width="1.5" stroke-linecap="butt"/>
<text x="232.5" y="426.8" font-size="15" text-anchor="middle" fill="#000" font-weight="normal" >12</text>
<line x1="261.3" y1="404.3" x2="261.3" y2="408.3" stroke="#000" stroke-width="1.5" stroke-linecap="butt"/>
<text x="261.3" y="426.8" font-size="15" text-anchor="middle" fill="#000" font-weight="normal" >14</text>
<text x="161.7" y="447.5" font-size="15" text-anchor="middle" fill="#000" font-weight="normal" >Time, s</text>
<text transform="translate(17.4,383.5) rotate(-90)" font-size="15" fill="#000" textLength="96.6" lengthAdjust="spacingAndGlyphs">[Ca<tspan font-size="10.5" dy="-6">2+</tspan><tspan dy="6">]</tspan><tspan font-size="10.5" dy="3.5">t-sys,</tspan><tspan dy="-3.5"> mM</tspan></text>
<line x1="14.5" y1="387.5" x2="14.5" y2="417.5" stroke="#000" stroke-width="3" stroke-linecap="butt"/>
<text transform="translate(317.9,378.4) rotate(-90)" font-size="15" fill="#9a9a9a" textLength="90.4" lengthAdjust="spacingAndGlyphs">[Ca<tspan font-size="10.5" dy="-4.5">2+</tspan><tspan dy="4.5">]</tspan><tspan font-size="10.5" dy="4.5">cyto,</tspan><tspan dy="-4.5"> &#181;M</tspan></text>
<line x1="314.2" y1="384.2" x2="314.2" y2="413.6" stroke="#8a8a8a" stroke-width="2.6" stroke-linecap="butt"/>
<line x1="94" y1="286.7" x2="212.1" y2="286.7" stroke="#000" stroke-width="2.6" stroke-linecap="butt"/>
<text x="154.6" y="281.1" font-size="15" text-anchor="middle" fill="#000" font-weight="normal" >2 Hz</text>
<line x1="60.3" y1="264.5" x2="260.1" y2="264.5" stroke="#ae10b4" stroke-width="2.6" stroke-linecap="butt"/>
<text x="102.5" y="255.9" font-size="15" text-anchor="start" fill="#ae10b4" font-weight="normal" textLength="116.4" lengthAdjust="spacingAndGlyphs">10 &#181;M BayK8644</text>
<path d="M59.7,370.6 L97.59,370.6 L97.6,359.9 L98.1,370.64 L104.69,368.96 L104.7,356 L105.2,369.96 L111.59,368.3 L111.6,341.8 L112.1,369.3 L118.39,367.65 L118.4,341.8 L118.9,368.65 L125.29,367.32 L125.3,355 L125.8,368.32 L132.49,367.08 L132.5,355.7 L133,368.08 L139.29,366.86 L139.3,344.2 L139.8,367.86 L146.19,366.63 L146.2,340.8 L146.7,367.63 L153.19,366.48 L153.2,350.9 L153.7,367.48 L160.09,366.45 L160.1,356 L160.6,367.45 L166.99,366.42 L167,347.9 L167.5,367.42 L173.89,366.38 L173.9,348.9 L174.4,367.38 L180.79,366.35 L180.8,352 L181.3,367.35 L187.69,366.31 L187.7,348.4 L188.2,367.31 L194.69,366.28 L194.7,350.4 L195.2,367.28 L201.49,366.24 L201.5,347.4 L202,367.24 L208.49,366.21 L208.5,350.4 L209,367.21 L209.5,366.2 L211.5,366.25 L213.5,366.31 L215.5,366.37 L217.5,366.43 L219.5,366.49 L221.5,366.61 L223.5,366.75 L225.5,366.89 L227.5,367.03 L229.5,367.18 L231.5,367.32 L233.5,367.46 L235.5,367.6 L237.5,367.74 L239.5,367.89 L241.5,368.03 L243.5,368.17 L245.5,368.31 L247.5,368.45 L249.5,368.6 L251.5,368.74 L253.5,368.88 L255.5,369.02 L257.5,369.16" fill="none" stroke="#8a8a8a" stroke-width="1.5" stroke-linejoin="round" />
<path d="M60.5,292.8 L61.2,292.8 L61.3,292.5 L62.0,292.5 L62.1,295.5 L62.8,295.5 L62.9,297.9 L63.6,297.9 L63.7,298.8 L64.4,298.8 L64.5,295.8 L65.2,295.8 L65.3,297.4 L66.0,297.4 L66.1,296.1 L66.8,296.1 L66.9,297.1 L67.6,297.1 L67.7,297.1 L68.4,297.1 L68.5,296.8 L69.2,296.8 L69.3,294.6 L70.0,294.6 L70.1,294.8 L70.8,294.8 L70.9,296.6 L71.6,296.6 L71.7,297.8 L72.4,297.8 L72.5,296.5 L73.2,296.5 L73.3,299.2 L74.0,299.2 L74.1,295.1 L74.8,295.1 L74.9,294.6 L75.6,294.6 L75.7,291.8 L76.4,291.8 L76.5,293.4 L77.2,293.4 L77.3,293.8 L78.0,293.8 L78.1,293.7 L78.8,293.7 L78.9,294.1 L79.6,294.1 L79.7,294.6 L80.4,294.6 L80.5,292.6 L81.2,292.6 L81.3,292.6 L82.0,292.6 L82.1,292.3 L82.8,292.3 L82.9,292.9 L83.6,292.9 L83.7,294.6 L84.4,294.6 L84.5,295.6 L85.2,295.6 L85.3,297.4 L86.0,297.4 L86.1,297.2 L86.8,297.2 L86.9,296.1 L87.6,296.1 L87.7,294.1 L88.4,294.1 L88.5,291.8 L89.2,291.8 L89.3,291.4 L90.0,291.4 L90.1,288.8 L90.8,288.8 L90.9,291.1 L91.6,291.1 L91.7,288.8 L92.4,288.8 L92.5,290.8 L93.2,290.8 L93.3,288.2 L94.0,288.2 L94.1,288.1 L94.8,288.1 L94.9,284.6 L95.6,284.6 L95.7,288.3 L96.4,288.3 L96.5,288.7 L97.2,288.7 L97.3,292.5 L98.0,292.5 L98.1,290.4 L98.8,290.4 L98.9,288.1 L99.6,288.1 L99.7,291.4 L100.4,291.4 L100.5,289.8 L101.2,289.8 L101.3,290.7 L102.0,290.7 L102.1,292.6 L102.8,292.6 L102.9,293.1 L103.6,293.1 L103.7,298.1 L104.4,298.1 L104.5,296.2 L105.2,296.2 L105.3,292.7 L106.0,292.7 L106.1,293.9 L106.8,293.9 L106.9,297.2 L107.6,297.2 L107.7,299.2 L108.4,299.2 L108.5,300.5 L109.2,300.5 L109.3,301.7 L110.0,301.7 L110.1,302.8 L110.8,302.8 L110.9,303.7 L111.6,303.7 L111.7,301.0 L112.4,301.0 L112.5,300.1 L113.2,300.1 L113.3,302.5 L114.0,302.5 L114.1,304.0 L114.8,304.0 L114.9,304.8 L115.6,304.8 L115.7,305.5 L116.4,305.5 L116.5,306.4 L117.2,306.4 L117.3,305.0 L118.0,305.0 L118.1,308.1 L118.8,308.1 L118.9,308.3 L119.6,308.3 L119.7,309.9 L120.4,309.9 L120.5,308.2 L121.2,308.2 L121.3,307.2 L122.0,307.2 L122.1,308.6 L122.8,308.6 L122.9,311.8 L123.6,311.8 L123.7,311.7 L124.4,311.7 L124.5,316.0 L125.2,316.0 L125.3,316.4 L126.0,316.4 L126.1,310.6 L126.8,310.6 L126.9,314.6 L127.6,314.6 L127.7,311.7 L128.4,311.7 L128.5,315.9 L129.2,315.9 L129.3,317.8 L130.0,317.8 L130.1,316.2 L130.8,316.2 L130.9,318.8 L131.6,318.8 L131.7,317.5 L132.4,317.5 L132.5,319.3 L133.2,319.3 L133.3,314.7 L134.0,314.7 L134.1,317.4 L134.8,317.4 L134.9,316.8 L135.6,316.8 L135.7,316.7 L136.4,316.7 L136.5,321.7 L137.2,321.7 L137.3,322.5 L138.0,322.5 L138.1,321.1 L138.8,321.1 L138.9,322.5 L139.6,322.5 L139.7,320.4 L140.4,320.4 L140.5,321.2 L141.2,321.2 L141.3,321.6 L142.0,321.6 L142.1,325.1 L142.8,325.1 L142.9,323.8 L143.6,323.8 L143.7,324.3 L144.4,324.3 L144.5,329.2 L145.2,329.2 L145.3,328.5 L146.0,328.5 L146.1,327.3 L146.8,327.3 L146.9,324.3 L147.6,324.3 L147.7,325.7 L148.4,325.7 L148.5,324.9 L149.2,324.9 L149.3,327.1 L150.0,327.1 L150.1,328.7 L150.8,328.7 L150.9,328.8 L151.6,328.8 L151.7,326.6 L152.4,326.6 L152.5,330.7 L153.2,330.7 L153.3,326.4 L154.0,326.4 L154.1,324.8 L154.8,324.8 L154.9,328.6 L155.6,328.6 L155.7,330.4 L156.4,330.4 L156.5,329.1 L157.2,329.1 L157.3,331.6 L158.0,331.6 L158.1,333.3 L158.8,333.3 L158.9,332.4 L159.6,332.4 L159.7,334.3 L160.4,334.3 L160.5,331.1 L161.2,331.1 L161.3,332.0 L162.0,332.0 L162.1,331.7 L162.8,331.7 L162.9,331.3 L163.6,331.3 L163.7,332.3 L164.4,332.3 L164.5,334.3 L165.2,334.3 L165.3,336.8 L166.0,336.8 L166.1,335.0 L166.8,335.0 L166.9,339.6 L167.6,339.6 L167.7,333.2 L168.4,333.2 L168.5,338.8 L169.2,338.8 L169.3,340.5 L170.0,340.5 L170.1,342.0 L170.8,342.0 L170.9,342.2 L171.6,342.2 L171.7,337.7 L172.4,337.7 L172.5,341.1 L173.2,341.1 L173.3,342.5 L174.0,342.5 L174.1,339.2 L174.8,339.2 L174.9,340.8 L175.6,340.8 L175.7,338.9 L176.4,338.9 L176.5,339.2 L177.2,339.2 L177.3,342.7 L178.0,342.7 L178.1,341.7 L178.8,341.7 L178.9,344.5 L179.6,344.5 L179.7,342.8 L180.4,342.8 L180.5,346.8 L181.2,346.8 L181.3,344.1 L182.0,344.1 L182.1,346.3 L182.8,346.3 L182.9,347.2 L183.6,347.2 L183.7,349.5 L184.4,349.5 L184.5,348.6 L185.2,348.6 L185.3,346.2 L186.0,346.2 L186.1,348.1 L186.8,348.1 L186.9,347.1 L187.6,347.1 L187.7,350.2 L188.4,350.2 L188.5,346.5 L189.2,346.5 L189.3,348.5 L190.0,348.5 L190.1,345.4 L190.8,345.4 L190.9,351.0 L191.6,351.0 L191.7,352.7 L192.4,352.7 L192.5,351.3 L193.2,351.3 L193.3,352.8 L194.0,352.8 L194.1,350.4 L194.8,350.4 L194.9,349.1 L195.6,349.1 L195.7,353.7 L196.4,353.7 L196.5,354.5 L197.2,354.5 L197.3,354.9 L198.0,354.9 L198.1,354.7 L198.8,354.7 L198.9,355.7 L199.6,355.7 L199.7,358.4 L200.4,358.4 L200.5,358.5 L201.2,358.5 L201.3,358.9 L202.0,358.9 L202.1,353.9 L202.8,353.9 L202.9,354.5 L203.6,354.5 L203.7,356.7 L204.4,356.7 L204.5,357.1 L205.2,357.1 L205.3,357.9 L206.0,357.9 L206.1,359.8 L206.8,359.8 L206.9,363.3 L207.6,363.3 L207.7,362.5 L208.4,362.5 L208.5,363.8 L209.2,363.8 L209.3,358.5 L210.0,358.5 L210.1,358.9 L210.8,358.9 L210.9,359.4 L211.6,359.4 L211.7,361.1 L212.4,361.1 L212.5,360.1 L213.2,360.1 L213.3,361.1 L214.0,361.1 L214.1,361.9 L214.8,361.9 L214.9,361.5 L215.6,361.5 L215.7,362.2 L216.4,362.2 L216.5,361.2 L217.2,361.2 L217.3,359.9 L218.0,359.9 L218.1,361.4 L218.8,361.4 L218.9,360.2 L219.6,360.2 L219.7,358.8 L220.4,358.8 L220.5,360.2 L221.2,360.2 L221.3,360.5 L222.0,360.5 L222.1,360.2 L222.8,360.2 L222.9,359.1 L223.6,359.1 L223.7,360.6 L224.4,360.6 L224.5,360.8 L225.2,360.8 L225.3,360.7 L226.0,360.7 L226.1,360.1 L226.8,360.1 L226.9,358.7 L227.6,358.7 L227.7,359.1 L228.4,359.1 L228.5,359.5 L229.2,359.5 L229.3,357.5 L230.0,357.5 L230.1,356.5 L230.8,356.5 L230.9,357.5 L231.6,357.5 L231.7,357.9 L232.4,357.9 L232.5,357.8 L233.2,357.8 L233.3,358.1 L234.0,358.1 L234.1,359.6 L234.8,359.6 L234.9,359.4 L235.6,359.4 L235.7,358.9 L236.4,358.9 L236.5,356.9 L237.2,356.9 L237.3,356.2 L238.0,356.2 L238.1,356.1 L238.8,356.1 L238.9,357.3 L239.6,357.3 L239.7,356.1 L240.4,356.1 L240.5,358.5 L241.2,358.5 L241.3,359.4 L242.0,359.4 L242.1,357.3 L242.8,357.3 L242.9,358.0 L243.6,358.0 L243.7,355.1 L244.4,355.1 L244.5,356.4 L245.2,356.4 L245.3,356.5 L246.0,356.5 L246.1,355.3 L246.8,355.3 L246.9,355.2 L247.6,355.2 L247.7,355.3 L248.4,355.3 L248.5,353.9 L249.2,353.9 L249.3,353.9 L250.0,353.9 L250.1,354.5 L250.8,354.5 L250.9,354.1 L251.6,354.1 L251.7,354.4 L252.4,354.4 L252.5,353.6 L253.2,353.6 L253.3,352.3 L254.0,352.3 L254.1,353.8 L254.8,353.8 L254.9,353.0 L255.6,353.0 L255.7,353.8 L256.4,353.8 L256.5,352.1 L257.2,352.1 L257.3,350.3 L258.0,350.3 L258.0,355.6 L257.3,355.6 L257.2,356.2 L256.5,356.2 L256.4,356.5 L255.7,356.5 L255.6,357.8 L254.9,357.8 L254.8,358.3 L254.1,358.3 L254.0,358.3 L253.3,358.3 L253.2,357.2 L252.5,357.2 L252.4,357.6 L251.7,357.6 L251.6,357.6 L250.9,357.6 L250.8,358.1 L250.1,358.1 L250.0,358.1 L249.3,358.1 L249.2,357.8 L248.5,357.8 L248.4,358.1 L247.7,358.1 L247.6,358.5 L246.9,358.5 L246.8,358.6 L246.1,358.6 L246.0,359.4 L245.3,359.4 L245.2,359.9 L244.5,359.9 L244.4,360.5 L243.7,360.5 L243.6,362.6 L242.9,362.6 L242.8,362.2 L242.1,362.2 L242.0,362.1 L241.3,362.1 L241.2,362.6 L240.5,362.6 L240.4,361.0 L239.7,361.0 L239.6,360.6 L238.9,360.6 L238.8,360.3 L238.1,360.3 L238.0,361.4 L237.3,361.4 L237.2,362.0 L236.5,362.0 L236.4,362.7 L235.7,362.7 L235.6,362.6 L234.9,362.6 L234.8,363.2 L234.1,363.2 L234.0,362.7 L233.3,362.7 L233.2,362.3 L232.5,362.3 L232.4,363.2 L231.7,363.2 L231.6,361.5 L230.9,361.5 L230.8,362.6 L230.1,362.6 L230.0,362.5 L229.3,362.5 L229.2,363.9 L228.5,363.9 L228.4,362.1 L227.7,362.1 L227.6,362.6 L226.9,362.6 L226.8,363.8 L226.1,363.8 L226.0,365.7 L225.3,365.7 L225.2,364.2 L224.5,364.2 L224.4,363.8 L223.7,363.8 L223.6,363.4 L222.9,363.4 L222.8,364.2 L222.1,364.2 L222.0,366.1 L221.3,366.1 L221.2,365.0 L220.5,365.0 L220.4,364.9 L219.7,364.9 L219.6,363.5 L218.9,363.5 L218.8,364.7 L218.1,364.7 L218.0,365.1 L217.3,365.1 L217.2,367.0 L216.5,367.0 L216.4,366.4 L215.7,366.4 L215.6,365.9 L214.9,365.9 L214.8,366.5 L214.1,366.5 L214.0,364.4 L213.3,364.4 L213.2,366.5 L212.5,366.5 L212.4,364.7 L211.7,364.7 L211.6,365.2 L210.9,365.2 L210.8,365.0 L210.1,365.0 L210.0,367.5 L209.3,367.5 L209.2,368.3 L208.5,368.3 L208.4,369.3 L207.7,369.3 L207.6,369.0 L206.9,369.0 L206.8,367.1 L206.1,367.1 L206.0,364.3 L205.3,364.3 L205.2,362.2 L204.5,362.2 L204.4,362.0 L203.7,362.0 L203.6,362.4 L202.9,362.4 L202.8,363.7 L202.1,363.7 L202.0,366.6 L201.3,366.6 L201.2,363.8 L200.5,363.8 L200.4,363.1 L199.7,363.1 L199.6,362.1 L198.9,362.1 L198.8,361.5 L198.1,361.5 L198.0,360.6 L197.3,360.6 L197.2,362.5 L196.5,362.5 L196.4,360.1 L195.7,360.1 L195.6,358.9 L194.9,358.9 L194.8,358.9 L194.1,358.9 L194.0,361.1 L193.3,361.1 L193.2,358.6 L192.5,358.6 L192.4,357.8 L191.7,357.8 L191.6,356.8 L190.9,356.8 L190.8,357.5 L190.1,357.5 L190.0,354.1 L189.3,354.1 L189.2,354.5 L188.5,354.5 L188.4,354.8 L187.7,354.8 L187.6,355.0 L186.9,355.0 L186.8,353.0 L186.1,353.0 L186.0,354.6 L185.3,354.6 L185.2,357.0 L184.5,357.0 L184.4,355.1 L183.7,355.1 L183.6,355.8 L182.9,355.8 L182.8,354.2 L182.1,354.2 L182.0,350.0 L181.3,350.0 L181.2,352.9 L180.5,352.9 L180.4,353.4 L179.7,353.4 L179.6,350.1 L178.9,350.1 L178.8,351.9 L178.1,351.9 L178.0,349.0 L177.3,349.0 L177.2,350.5 L176.5,350.5 L176.4,348.0 L175.7,348.0 L175.6,349.3 L174.9,349.3 L174.8,348.1 L174.1,348.1 L174.0,349.3 L173.3,349.3 L173.2,347.5 L172.5,347.5 L172.4,346.4 L171.7,346.4 L171.6,346.7 L170.9,346.7 L170.8,347.6 L170.1,347.6 L170.0,348.7 L169.3,348.7 L169.2,344.3 L168.5,344.3 L168.4,344.0 L167.7,344.0 L167.6,343.8 L166.9,343.8 L166.8,345.1 L166.1,345.1 L166.0,344.1 L165.3,344.1 L165.2,339.9 L164.5,339.9 L164.4,339.1 L163.7,339.1 L163.6,338.9 L162.9,338.9 L162.8,338.2 L162.1,338.2 L162.0,337.8 L161.3,337.8 L161.2,336.9 L160.5,336.9 L160.4,338.9 L159.7,338.9 L159.6,340.3 L158.9,340.3 L158.8,338.5 L158.1,338.5 L158.0,339.5 L157.3,339.5 L157.2,335.8 L156.5,335.8 L156.4,334.5 L155.7,334.5 L155.6,333.3 L154.9,333.3 L154.8,335.7 L154.1,335.7 L154.0,331.1 L153.3,331.1 L153.2,335.5 L152.5,335.5 L152.4,336.9 L151.7,336.9 L151.6,337.2 L150.9,337.2 L150.8,337.5 L150.1,337.5 L150.0,333.8 L149.3,333.8 L149.2,334.7 L148.5,334.7 L148.4,332.1 L147.7,332.1 L147.6,331.5 L146.9,331.5 L146.8,333.6 L146.1,333.6 L146.0,336.9 L145.3,336.9 L145.2,333.8 L144.5,333.8 L144.4,333.1 L143.7,333.1 L143.6,332.4 L142.9,332.4 L142.8,329.6 L142.1,329.6 L142.0,328.7 L141.3,328.7 L141.2,330.3 L140.5,330.3 L140.4,325.5 L139.7,325.5 L139.6,328.2 L138.9,328.2 L138.8,331.8 L138.1,331.8 L138.0,330.8 L137.3,330.8 L137.2,326.1 L136.5,326.1 L136.4,324.5 L135.7,324.5 L135.6,324.1 L134.9,324.1 L134.8,322.0 L134.1,322.0 L134.0,320.5 L133.3,320.5 L133.2,323.7 L132.5,323.7 L132.4,326.3 L131.7,326.3 L131.6,326.1 L130.9,326.1 L130.8,323.9 L130.1,323.9 L130.0,325.8 L129.3,325.8 L129.2,325.1 L128.5,325.1 L128.4,319.7 L127.7,319.7 L127.6,319.4 L126.9,319.4 L126.8,319.8 L126.1,319.8 L126.0,324.9 L125.3,324.9 L125.2,322.0 L124.5,322.0 L124.4,319.6 L123.7,319.6 L123.6,317.0 L122.9,317.0 L122.8,315.6 L122.1,315.6 L122.0,314.9 L121.3,314.9 L121.2,314.5 L120.5,314.5 L120.4,314.3 L119.7,314.3 L119.6,315.3 L118.9,315.3 L118.8,318.9 L118.1,318.9 L118.0,313.1 L117.3,313.1 L117.2,311.1 L116.5,311.1 L116.4,310.3 L115.7,310.3 L115.6,309.6 L114.9,309.6 L114.8,310.4 L114.1,310.4 L114.0,310.3 L113.3,310.3 L113.2,307.8 L112.5,307.8 L112.4,308.6 L111.7,308.6 L111.6,310.3 L110.9,310.3 L110.8,310.6 L110.1,310.6 L110.0,309.1 L109.3,309.1 L109.2,308.2 L108.5,308.2 L108.4,307.4 L107.7,307.4 L107.6,303.5 L106.9,303.5 L106.8,301.8 L106.1,301.8 L106.0,298.7 L105.3,298.7 L105.2,302.7 L104.5,302.7 L104.4,304.4 L103.7,304.4 L103.6,303.1 L102.9,303.1 L102.8,299.9 L102.1,299.9 L102.0,299.8 L101.3,299.8 L101.2,297.4 L100.5,297.4 L100.4,296.2 L99.7,296.2 L99.6,295.6 L98.9,295.6 L98.8,296.8 L98.1,296.8 L98.0,297.2 L97.3,297.2 L97.2,295.8 L96.5,295.8 L96.4,294.1 L95.7,294.1 L95.6,292.8 L94.9,292.8 L94.8,293.7 L94.1,293.7 L94.0,294.0 L93.3,294.0 L93.2,296.3 L92.5,296.3 L92.4,300.2 L91.7,300.2 L91.6,298.2 L90.9,298.2 L90.8,299.6 L90.1,299.6 L90.0,297.0 L89.3,297.0 L89.2,299.0 L88.5,299.0 L88.4,301.1 L87.7,301.1 L87.6,301.4 L86.9,301.4 L86.8,302.8 L86.1,302.8 L86.0,303.0 L85.3,303.0 L85.2,302.0 L84.5,302.0 L84.4,301.9 L83.7,301.9 L83.6,300.6 L82.9,300.6 L82.8,302.0 L82.1,302.0 L82.0,301.2 L81.3,301.2 L81.2,301.1 L80.5,301.1 L80.4,304.0 L79.7,304.0 L79.6,300.8 L78.9,300.8 L78.8,299.8 L78.1,299.8 L78.0,299.3 L77.3,299.3 L77.2,299.1 L76.5,299.1 L76.4,299.0 L75.7,299.0 L75.6,300.6 L74.9,300.6 L74.8,305.3 L74.1,305.3 L74.0,304.5 L73.3,304.5 L73.2,305.1 L72.5,305.1 L72.4,303.8 L71.7,303.8 L71.6,306.1 L70.9,306.1 L70.8,302.4 L70.1,302.4 L70.0,302.0 L69.3,302.0 L69.2,302.9 L68.5,302.9 L68.4,303.4 L67.7,303.4 L67.6,302.9 L66.9,302.9 L66.8,303.3 L66.1,303.3 L66.0,304.8 L65.3,304.8 L65.2,304.0 L64.5,304.0 L64.4,304.4 L63.7,304.4 L63.6,303.9 L62.9,303.9 L62.8,305.2 L62.1,305.2 L62.0,300.4 L61.3,300.4 L61.2,299.8 L60.5,299.8Z" fill="#000" stroke="#000" stroke-width="0.6" stroke-linejoin="round"/>
<path d="M93,291.14 L95.12,293.23 L97.25,295.28 L99.37,297.28 L101.49,299.23 L103.62,301.15 L105.74,303.01 L107.87,304.84 L109.99,306.62 L112.11,308.37 L114.24,310.07 L116.36,311.74 L118.48,313.37 L120.61,314.96 L122.73,316.51 L124.86,318.04 L126.98,319.52 L129.1,320.98 L131.23,322.4 L133.35,323.78 L135.47,325.14 L137.6,326.47 L139.72,327.76 L141.85,329.03 L143.97,330.27 L146.09,331.48 L148.22,332.66 L150.34,333.82 L152.46,334.95 L154.59,336.05 L156.71,337.13 L158.84,338.19 L160.96,339.22 L163.08,340.23 L165.21,341.21 L167.33,342.18 L169.45,343.12 L171.58,344.04 L173.7,344.94 L175.83,345.82 L177.95,346.68 L180.07,347.52 L182.2,348.34 L184.32,349.14 L186.44,349.93 L188.57,350.69 L190.69,351.44 L192.82,352.18 L194.94,352.89 L197.06,353.59 L199.19,354.28 L201.31,354.94 L203.43,355.6 L205.56,356.24 L207.68,356.86 L209.81,357.47 L211.93,358.07 L214.05,358.65 L216.18,359.22 L218.3,359.78" fill="none" stroke="#2cb52c" stroke-width="1.6" stroke-linejoin="round" />
<text x="0.3" y="254.3" font-size="20" text-anchor="start" fill="#000" font-weight="bold" >c</text>
<text x="348.6" y="254.4" font-size="20" text-anchor="start" fill="#000" font-weight="bold" >d</text>
<line x1="412.8" y1="267.2" x2="412.8" y2="396.15" stroke="#000" stroke-width="1.5" stroke-linecap="butt"/>
<line x1="409.9" y1="395.4" x2="499.8" y2="395.4" stroke="#000" stroke-width="1.5" stroke-linecap="butt"/>
<line x1="409.3" y1="267.2" x2="412.8" y2="267.2" stroke="#000" stroke-width="1.5" stroke-linecap="butt"/>
<text x="404.6" y="272.5" font-size="15" text-anchor="end" fill="#000" font-weight="normal" >0.3</text>
<line x1="409.3" y1="310.1" x2="412.8" y2="310.1" stroke="#000" stroke-width="1.5" stroke-linecap="butt"/>
<text x="404.6" y="315.4" font-size="15" text-anchor="end" fill="#000" font-weight="normal" >0.2</text>
<line x1="409.3" y1="352.8" x2="412.8" y2="352.8" stroke="#000" stroke-width="1.5" stroke-linecap="butt"/>
<text x="404.6" y="358.1" font-size="15" text-anchor="end" fill="#000" font-weight="normal" >0.1</text>
<line x1="409.3" y1="395.4" x2="412.8" y2="395.4" stroke="#000" stroke-width="1.5" stroke-linecap="butt"/>
<text x="404.6" y="400.7" font-size="15" text-anchor="end" fill="#000" font-weight="normal" >0.0</text>
<line x1="429.3" y1="395.4" x2="429.3" y2="399.4" stroke="#000" stroke-width="1.5" stroke-linecap="butt"/>
<rect x="418.3" y="309.8" width="22" height="51.6" fill="none" stroke="#000" stroke-width="1.5"/>
<line x1="418.3" y1="340.3" x2="440.3" y2="340.3" stroke="#000" stroke-width="1.5" stroke-linecap="butt"/>
<line x1="429.3" y1="303.3" x2="429.3" y2="309.8" stroke="#000" stroke-width="1.5" stroke-linecap="butt"/>
<line x1="424.4" y1="303.3" x2="435.3" y2="303.3" stroke="#000" stroke-width="1.5" stroke-linecap="butt"/>
<line x1="429.3" y1="361.4" x2="429.3" y2="364.4" stroke="#000" stroke-width="1.5" stroke-linecap="butt"/>
<line x1="424.4" y1="364.4" x2="435.3" y2="364.4" stroke="#000" stroke-width="1.5" stroke-linecap="butt"/>
<line x1="456.4" y1="395.4" x2="456.4" y2="399.4" stroke="#000" stroke-width="1.5" stroke-linecap="butt"/>
<rect x="445.5" y="320.2" width="21.8" height="39" fill="none" stroke="#dc1e78" stroke-width="1.5"/>
<line x1="445.5" y1="346.4" x2="467.3" y2="346.4" stroke="#dc1e78" stroke-width="1.5" stroke-linecap="butt"/>
<line x1="456.4" y1="311.3" x2="456.4" y2="320.2" stroke="#dc1e78" stroke-width="1.5" stroke-linecap="butt"/>
<line x1="451" y1="311.3" x2="461.9" y2="311.3" stroke="#dc1e78" stroke-width="1.5" stroke-linecap="butt"/>
<line x1="456.4" y1="359.2" x2="456.4" y2="364.2" stroke="#dc1e78" stroke-width="1.5" stroke-linecap="butt"/>
<line x1="451" y1="364.2" x2="461.9" y2="364.2" stroke="#dc1e78" stroke-width="1.5" stroke-linecap="butt"/>
<line x1="483.4" y1="395.4" x2="483.4" y2="399.4" stroke="#000" stroke-width="1.5" stroke-linecap="butt"/>
<rect x="472.3" y="326.3" width="22.2" height="30.5" fill="none" stroke="#ae10b4" stroke-width="1.5"/>
<line x1="472.3" y1="345.7" x2="494.5" y2="345.7" stroke="#ae10b4" stroke-width="1.5" stroke-linecap="butt"/>
<line x1="483.4" y1="319.6" x2="483.4" y2="326.3" stroke="#ae10b4" stroke-width="1.5" stroke-linecap="butt"/>
<line x1="478.2" y1="319.6" x2="489.1" y2="319.6" stroke="#ae10b4" stroke-width="1.5" stroke-linecap="butt"/>
<line x1="483.4" y1="356.8" x2="483.4" y2="360.3" stroke="#ae10b4" stroke-width="1.5" stroke-linecap="butt"/>
<line x1="478.2" y1="360.3" x2="489.1" y2="360.3" stroke="#ae10b4" stroke-width="1.5" stroke-linecap="butt"/>
<line x1="598.3" y1="269.5" x2="598.3" y2="398.25" stroke="#000" stroke-width="1.5" stroke-linecap="butt"/>
<line x1="594.3" y1="397.5" x2="685" y2="397.5" stroke="#000" stroke-width="1.5" stroke-linecap="butt"/>
<line x1="594.8" y1="269.5" x2="598.3" y2="269.5" stroke="#000" stroke-width="1.5" stroke-linecap="butt"/>
<text x="590.1" y="274.8" font-size="15" text-anchor="end" fill="#000" font-weight="normal" >1.5</text>
<line x1="594.8" y1="312.1" x2="598.3" y2="312.1" stroke="#000" stroke-width="1.5" stroke-linecap="butt"/>
<text x="590.1" y="317.4" font-size="15" text-anchor="end" fill="#000" font-weight="normal" >1.0</text>
<line x1="594.8" y1="354.8" x2="598.3" y2="354.8" stroke="#000" stroke-width="1.5" stroke-linecap="butt"/>
<text x="590.1" y="360.1" font-size="15" text-anchor="end" fill="#000" font-weight="normal" >0.5</text>
<line x1="594.8" y1="397.5" x2="598.3" y2="397.5" stroke="#000" stroke-width="1.5" stroke-linecap="butt"/>
<text x="590.1" y="402.8" font-size="15" text-anchor="end" fill="#000" font-weight="normal" >0.0</text>
<line x1="612.7" y1="397.5" x2="612.7" y2="401.5" stroke="#000" stroke-width="1.5" stroke-linecap="butt"/>
<rect x="601.3" y="345.2" width="22.8" height="22.3" fill="none" stroke="#000" stroke-width="1.5"/>
<line x1="601.3" y1="358.6" x2="624.1" y2="358.6" stroke="#000" stroke-width="1.5" stroke-linecap="butt"/>
<line x1="612.7" y1="344.2" x2="612.7" y2="345.2" stroke="#000" stroke-width="1.5" stroke-linecap="butt"/>
<line x1="606.8" y1="344.2" x2="618.8" y2="344.2" stroke="#000" stroke-width="1.5" stroke-linecap="butt"/>
<line x1="641.2" y1="397.5" x2="641.2" y2="401.5" stroke="#000" stroke-width="1.5" stroke-linecap="butt"/>
<rect x="629.6" y="312.3" width="23.3" height="48.5" fill="none" stroke="#dc1e78" stroke-width="1.5"/>
<line x1="629.6" y1="336.3" x2="652.9" y2="336.3" stroke="#dc1e78" stroke-width="1.5" stroke-linecap="butt"/>
<line x1="641.2" y1="304.4" x2="641.2" y2="312.3" stroke="#dc1e78" stroke-width="1.5" stroke-linecap="butt"/>
<line x1="635.1" y1="304.4" x2="647.6" y2="304.4" stroke="#dc1e78" stroke-width="1.5" stroke-linecap="butt"/>
<line x1="641.2" y1="360.8" x2="641.2" y2="367.5" stroke="#dc1e78" stroke-width="1.5" stroke-linecap="butt"/>
<line x1="635.1" y1="367.5" x2="647.6" y2="367.5" stroke="#dc1e78" stroke-width="1.5" stroke-linecap="butt"/>
<line x1="670" y1="397.5" x2="670" y2="401.5" stroke="#000" stroke-width="1.5" stroke-linecap="butt"/>
<rect x="658.4" y="310.9" width="23.3" height="53.5" fill="none" stroke="#ae10b4" stroke-width="1.5"/>
<line x1="658.4" y1="353.6" x2="681.7" y2="353.6" stroke="#ae10b4" stroke-width="1.5" stroke-linecap="butt"/>
<line x1="670" y1="296.5" x2="670" y2="310.9" stroke="#ae10b4" stroke-width="1.5" stroke-linecap="butt"/>
<line x1="663.9" y1="296.5" x2="675.9" y2="296.5" stroke="#ae10b4" stroke-width="1.5" stroke-linecap="butt"/>
<line x1="670" y1="364.4" x2="670" y2="367.5" stroke="#ae10b4" stroke-width="1.5" stroke-linecap="butt"/>
<line x1="663.9" y1="367.5" x2="675.9" y2="367.5" stroke="#ae10b4" stroke-width="1.5" stroke-linecap="butt"/>
<text transform="translate(431.8,413) rotate(-45)" font-size="15.6" text-anchor="end" fill="#000">Control</text>
<text transform="translate(459.9,413.4) rotate(-45)" font-size="15.6" text-anchor="end" fill="#000">Nifedipine</text>
<text transform="translate(488.2,412.4) rotate(-45)" font-size="15.6" text-anchor="end" fill="#000">BayK</text>
<text transform="translate(617.2,413.1) rotate(-45)" font-size="15.6" text-anchor="end" fill="#000">Control</text>
<text transform="translate(645.3,413.5) rotate(-45)" font-size="15.6" text-anchor="end" fill="#000">Nifedipine</text>
<text transform="translate(673.6,412.5) rotate(-45)" font-size="15.6" text-anchor="end" fill="#000">BayK</text>
<text transform="translate(371,392) rotate(-90)" font-size="15" fill="#000">Rate constant, s<tspan font-size="11.5" dy="-6">&#8211;1</tspan></text>
<text transform="translate(531.2,378.6) rotate(-90)" font-size="15.5" fill="#000" textLength="85.5" lengthAdjust="spacingAndGlyphs">Steady-state</text>
<text transform="translate(549.6,384.3) rotate(-90)" font-size="15" fill="#000" textLength="97" lengthAdjust="spacingAndGlyphs">[Ca<tspan font-size="10.5" dy="-6">2+</tspan><tspan dy="6">]</tspan><tspan font-size="10.5" dy="3.5">t-sys,</tspan><tspan dy="-3.5"> mM</tspan></text>
</svg></body></html>
